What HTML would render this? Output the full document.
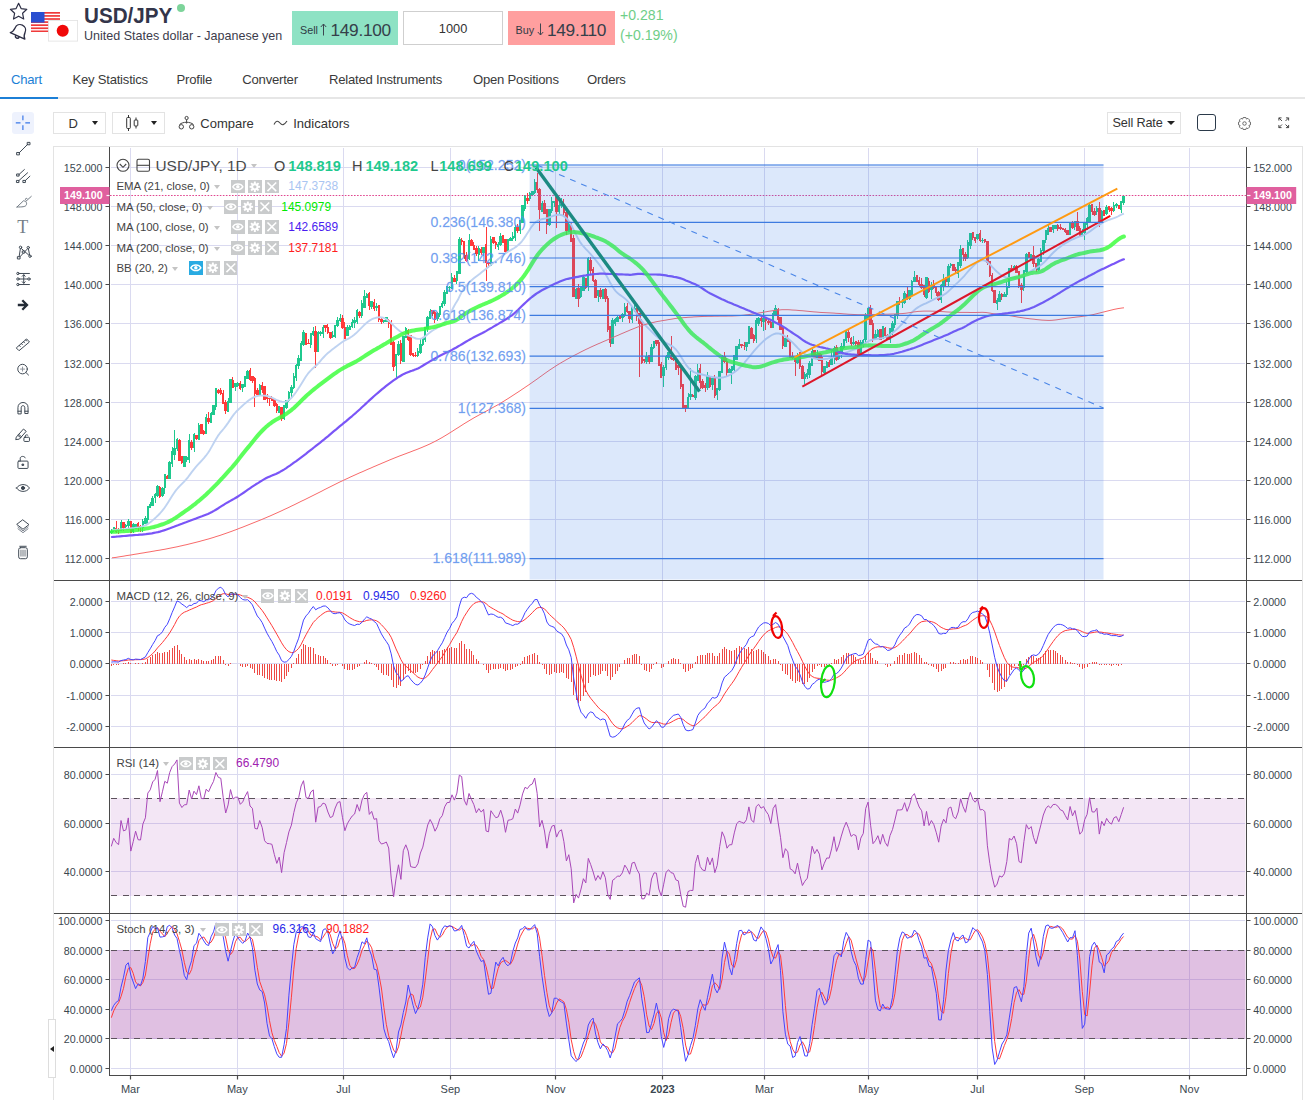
<!DOCTYPE html><html lang="en"><head><meta charset="utf-8"><title>USD/JPY</title><style>
*{box-sizing:border-box;margin:0;padding:0}
html,body{width:1305px;height:1100px;overflow:hidden;background:#fff}
body{font-family:"Liberation Sans",Arial,sans-serif;color:#333;position:relative}
.a{position:absolute;white-space:nowrap}
.tab{position:absolute;top:72.3px;font-size:13.1px;color:#3a3a3a;white-space:nowrap;line-height:16px;letter-spacing:-0.22px}
.lg{position:absolute;font-size:11.45px;color:#444;white-space:nowrap;line-height:14px;left:116.4px}
.bt{position:absolute;width:13.7px;height:13.6px;background:#c9cbcc}
.bt svg{position:absolute;left:0;top:0}
.val{position:absolute;font-size:11.95px;white-space:nowrap;line-height:14px}
.car{position:absolute;width:0;height:0;border-left:3.6px solid transparent;border-right:3.6px solid transparent;border-top:4px solid #c4c4c4}
</style></head><body>
<svg class="a" style="left:8px;top:1px" width="22" height="20" viewBox="0 0 22 20"><path d="M10.6 2.3l2.5 5.3 5.7 0.7-4.2 4 1.1 5.7-5.1-2.8-5.1 2.8 1.1-5.7-4.2-4 5.7-0.7z" fill="none" stroke="#2d2f45" stroke-width="1.2" stroke-linejoin="round"/></svg>
<svg class="a" style="left:6.5px;top:18.5px" width="25" height="25" viewBox="0 0 22 22"><g transform="rotate(24 11 11)" fill="none" stroke="#2d2f45" stroke-width="1.2" stroke-linejoin="round"><path d="M4 15.2c1.6-1.3 2.2-3 2.2-5.4 0-2.8 2-5 4.8-5s4.8 2.2 4.8 5c0 2.4 0.6 4.1 2.2 5.4z"/><path d="M9.3 15.400c0 1.1 0.7 1.9 1.7 1.900s1.700-0.8 1.700-1.9"/></g></svg>
<svg class="a" style="left:31px;top:11.5px" width="29" height="20" viewBox="0 0 29 20"><rect width="29" height="20" fill="#fff"/><rect y="0.00" width="29" height="1.7" fill="#f03a3a"/><rect y="3.08" width="29" height="1.7" fill="#f03a3a"/><rect y="6.16" width="29" height="1.7" fill="#f03a3a"/><rect y="9.24" width="29" height="1.7" fill="#f03a3a"/><rect y="12.32" width="29" height="1.7" fill="#f03a3a"/><rect y="15.40" width="29" height="1.7" fill="#f03a3a"/><rect y="18.48" width="29" height="1.7" fill="#f03a3a"/><rect width="13.5" height="10.6" fill="#2a4fd0"/></svg>
<svg class="a" style="left:47.5px;top:20px" width="30" height="21.5" viewBox="0 0 30 21.5"><rect x="0.4" y="0.4" width="29.2" height="20.7" fill="#fff" stroke="#e2e2e2" stroke-width="0.8"/><circle cx="14.7" cy="10.7" r="6" fill="#f00808"/></svg>
<div class="a" style="left:84px;top:2px;font-size:22.8px;font-weight:bold;color:#33354a;letter-spacing:0;line-height:26px;transform:scaleX(0.905);transform-origin:0 0">USD/JPY</div>
<div class="a" style="left:177px;top:4px;width:8.4px;height:8.4px;border-radius:50%;background:#7dd49a"></div>
<div class="a" style="left:84px;top:28.5px;font-size:12.520px;color:#3c3c4c;line-height:15px">United States dollar - Japanese yen</div>
<div class="a" style="left:292.4px;top:10.8px;width:105.2px;height:34.3px;background:#8ee2c4"></div>
<div class="a" style="left:300px;top:23.5px;font-size:10.8px;color:#2f3b45;line-height:13px">Sell</div>
<svg class="a" style="left:318.5px;top:21.5px" width="9" height="15" viewBox="0 0 9 15"><path d="M4.5 13.5V2M1.8 5L4.5 2L7.2 5" fill="none" stroke="#3c4650" stroke-width="1"/></svg>
<div class="a" style="left:330.5px;top:19.5px;font-size:17.3px;color:#35404a;line-height:20px;letter-spacing:-0.3px">149.100</div>
<div class="a" style="left:403.4px;top:10.8px;width:99.4px;height:34.3px;border:1px solid #cfcfcf;background:#fff"></div>
<div class="a" style="left:403.4px;top:20.5px;width:99.4px;text-align:center;font-size:12.8px;color:#333;line-height:15px">1000</div>
<div class="a" style="left:508px;top:10.8px;width:106.8px;height:34.3px;background:#ff9f9f"></div>
<div class="a" style="left:515.5px;top:23.5px;font-size:10.8px;color:#2f3b45;line-height:13px">Buy</div>
<svg class="a" style="left:535.5px;top:21.5px" width="9" height="15" viewBox="0 0 9 15"><path d="M4.5 1.5V13M1.8 10L4.5 13L7.2 10" fill="none" stroke="#3c4650" stroke-width="1"/></svg>
<div class="a" style="left:547px;top:19.5px;font-size:17.3px;color:#35404a;line-height:20px;letter-spacing:-0.3px">149.110</div>
<div class="a" style="left:620px;top:7px;font-size:14.1px;color:#6fce88;line-height:16px">+0.281</div>
<div class="a" style="left:620px;top:26.5px;font-size:14.1px;color:#6fce88;line-height:16px">(+0.19%)</div>
<div class="tab" style="left:11px;color:#1c7fd6">Chart</div>
<div class="tab" style="left:72.4px">Key Statistics</div>
<div class="tab" style="left:176.5px">Profile</div>
<div class="tab" style="left:242.3px">Converter</div>
<div class="tab" style="left:329px">Related Instruments</div>
<div class="tab" style="left:473px">Open Positions</div>
<div class="tab" style="left:587px">Orders</div>
<div class="a" style="left:0;top:97.3px;width:1305px;height:2px;background:#e6e6e6"></div>
<div class="a" style="left:0;top:97.3px;width:58px;height:2px;background:#1c7fd6"></div>
<div class="a" style="left:12.3px;top:112.2px;width:21.5px;height:21.5px;border-radius:3px;background:#eef2fd"></div>
<svg class="a" style="left:12.3px;top:112.2px" width="21.5" height="21.5" viewBox="0 0 21.5 21.5"><path d="M10.9 3.5V8.3M10.9 13.3V18M3.8 10.8H8.5M13.3 10.8H18" stroke="#3a78e8" stroke-width="1.2" fill="none"/></svg>
<div class="a" style="left:53px;top:112.2px;width:52.8px;height:21.5px;border:1px solid #e3e3e3;background:#fff"></div>
<div class="a" style="left:68.5px;top:115.5px;font-size:13px;color:#333;line-height:15px">D</div>
<div class="a" style="left:92.2px;top:121.4px;width:0;height:0;border-left:3.6px solid transparent;border-right:3.6px solid transparent;border-top:4.2px solid #222"></div>
<div class="a" style="left:112.2px;top:112.2px;width:52.8px;height:21.5px;border:1px solid #e3e3e3;background:#fff"></div>
<svg class="a" style="left:125px;top:114px" width="16" height="18" viewBox="0 0 16 18"><path d="M3.5 1V3.5M3.5 14.5V17M11 3.5V6M11 12V14.5" stroke="#333" stroke-width="1" fill="none"/><rect x="1.7" y="3.5" width="3.6" height="11" rx="0.8" fill="none" stroke="#333" stroke-width="1"/><rect x="9.2" y="6" width="3.6" height="6" rx="0.8" fill="none" stroke="#333" stroke-width="1"/></svg>
<div class="a" style="left:151.3px;top:121.4px;width:0;height:0;border-left:3.6px solid transparent;border-right:3.6px solid transparent;border-top:4.2px solid #222"></div>
<svg class="a" style="left:177.5px;top:114.5px" width="17" height="16" viewBox="0 0 17 16"><g fill="none" stroke="#444" stroke-width="1"><circle cx="8.6" cy="3" r="1.6"/><circle cx="3.3" cy="11.8" r="2.2"/><circle cx="13.7" cy="11.8" r="2.2"/><path d="M8.6 4.6V8.5M1.5 9.5C5 6.5 12 6.5 15.5 9.5"/></g></svg>
<div class="a" style="left:200.3px;top:115.5px;font-size:13px;color:#333;line-height:15px">Compare</div>
<svg class="a" style="left:272.5px;top:118px" width="15" height="10" viewBox="0 0 15 10"><path d="M1 6.5C3 2.5 5 2.5 7 5S11 7.5 14 3" fill="none" stroke="#444" stroke-width="1.1"/></svg>
<div class="a" style="left:293.2px;top:115.5px;font-size:13px;color:#333;line-height:15px">Indicators</div>
<div class="a" style="left:1107.3px;top:112.4px;width:73.4px;height:21.2px;border:1px solid #e3e3e3;background:#fff"></div>
<div class="a" style="left:1112.5px;top:116.3px;font-size:12.7px;color:#333;line-height:15px;letter-spacing:-0.150px">Sell Rate</div>
<div class="a" style="left:1167px;top:121.2px;width:0;height:0;border-left:4px solid transparent;border-right:4px solid transparent;border-top:4.4px solid #222"></div>
<div class="a" style="left:1197.2px;top:114.3px;width:19px;height:16.6px;border:1.5px solid #2b3a4a;border-radius:3px"></div>
<svg class="a" style="left:1237.4px;top:115.5px" width="15" height="15" viewBox="-9 -9 18 18"><g fill="none" stroke="#555" stroke-width="1"><path d="M-1.6 -7.2L1.6 -7.2L2.3 -5.3L4.1 -6.2L6.2 -4.1L5.3 -2.3L7.2 -1.6L7.2 1.6L5.3 2.3L6.2 4.1L4.1 6.2L2.3 5.3L1.6 7.2L-1.6 7.2L-2.3 5.3L-4.1 6.2L-6.2 4.1L-5.3 2.3L-7.2 1.6L-7.2 -1.6L-5.3 -2.3L-6.2 -4.1L-4.1 -6.2L-2.3 -5.3Z" stroke-linejoin="round"/><circle r="2.1"/></g></svg>
<svg class="a" style="left:1278.3px;top:117.3px" width="11.5" height="11.5" viewBox="0 0 13 13"><g fill="none" stroke="#444" stroke-width="1.1"><path d="M1 4V1H4M1 1L4.5 4.5M9 1H12V4M12 1L8.5 4.5M1 9V12H4M1 12L4.5 8.5M12 9V12H9M12 12L8.5 8.5"/></g></svg>
<svg width="1305" height="1100" viewBox="0 0 1305 1100" style="position:absolute;left:0;top:0" font-family="Liberation Sans, Arial, sans-serif">
<rect x="53.5" y="146.5" width="1249" height="960" fill="#fff" stroke="#e3e3e3"/>
<defs><clipPath id="cp0"><rect x="110.5" y="147" width="1135.5" height="433"/></clipPath><clipPath id="cp1"><rect x="110.5" y="581" width="1135.5" height="166"/></clipPath><clipPath id="cp2"><rect x="110.5" y="748" width="1135.5" height="165"/></clipPath><clipPath id="cp3"><rect x="110.5" y="914" width="1135.5" height="161"/></clipPath></defs>
<path d="M130.5 148V1075 M237.5 148V1075 M343.5 148V1075 M450.5 148V1075 M555.5 148V1075 M662.5 148V1075 M764.5 148V1075 M868.5 148V1075 M977.5 148V1075 M1084.5 148V1075 M1189.5 148V1075 M111 558.5H1245 M111 519.5H1245 M111 480.5H1245 M111 441.5H1245 M111 402.5H1245 M111 363.5H1245 M111 323.5H1245 M111 284.5H1245 M111 245.5H1245 M111 206.5H1245 M111 167.5H1245 M111 726.5H1245 M111 695.5H1245 M111 663.5H1245 M111 632.5H1245 M111 601.5H1245 M111 871.5H1245 M111 823.5H1245 M111 774.5H1245 M111 1068.5H1245 M111 1038.5H1245 M111 1009.5H1245 M111 979.5H1245 M111 950.5H1245 M111 920.5H1245" stroke="#dadaf0" stroke-width="1" fill="none" shape-rendering="crispEdges"/>
<rect x="110.5" y="798.0" width="1135" height="98.0" fill="#a040b0" fill-opacity="0.13"/>
<rect x="110.5" y="950.0" width="1135" height="89.0" fill="#a040a8" fill-opacity="0.33"/>
<path d="M111 798.5H1245" stroke="#5c525c" stroke-width="1" stroke-dasharray="6 5.5" fill="none" shape-rendering="crispEdges"/>
<path d="M111 895.5H1245" stroke="#5c525c" stroke-width="1" stroke-dasharray="6 5.5" fill="none" shape-rendering="crispEdges"/>
<path d="M111 950.5H1245" stroke="#5c525c" stroke-width="1" stroke-dasharray="6 5.5" fill="none" shape-rendering="crispEdges"/>
<path d="M111 1038.5H1245" stroke="#5c525c" stroke-width="1" stroke-dasharray="6 5.5" fill="none" shape-rendering="crispEdges"/>
<path d="M111.5 529.1V534.3 M113.5 527.4V532.0 M121.5 519.9V530.8 M125.5 523.6V528.1 M128.5 519.0V527.6 M133.5 523.4V533.0 M135.5 524.0V528.1 M142.5 519.2V531.8 M145.5 516.3V523.7 M147.5 505.7V524.9 M150.5 502.4V508.1 M152.5 496.4V505.2 M155.5 493.2V502.5 M157.5 485.1V497.4 M162.5 486.8V496.7 M164.5 475.5V493.7 M169.5 461.3V478.4 M172.5 447.4V466.7 M174.5 430.0V460.0 M177.5 438.1V451.0 M184.5 457.7V463.0 M186.5 455.8V462.4 M189.5 433.7V463.4 M194.5 433.1V452.4 M198.5 423.4V438.3 M206.5 414.3V434.3 M211.5 412.0V422.5 M213.5 405.1V414.9 M215.5 389.7V410.4 M228.5 398.4V412.4 M230.5 379.4V402.8 M235.5 382.8V390.5 M237.5 382.2V387.0 M242.5 383.7V392.3 M245.5 375.6V386.0 M247.5 369.5V379.0 M259.5 383.5V393.8 M279.5 405.6V411.4 M284.5 405.8V420.4 M286.5 399.7V408.8 M288.5 390.7V401.6 M291.5 385.0V397.2 M293.5 373.2V388.5 M296.5 364.3V381.0 M298.5 355.1V369.2 M301.5 340.8V360.2 M303.5 330.3V345.6 M310.5 333.8V347.6 M313.5 327.2V336.1 M318.5 331.4V352.4 M320.5 330.8V335.5 M323.5 324.6V337.5 M332.5 331.0V338.3 M335.5 325.5V338.0 M337.5 317.4V326.7 M340.5 313.9V321.6 M347.5 324.9V336.3 M349.5 324.8V330.3 M352.5 319.4V328.2 M354.5 316.9V327.8 M357.5 308.6V324.1 M361.5 300.1V318.0 M364.5 290.1V305.9 M366.5 292.5V297.7 M371.5 301.8V309.0 M376.5 302.6V310.5 M383.5 320.0V322.7 M386.5 318.1V321.3 M396.5 353.5V378.7 M398.5 340.9V356.4 M403.5 335.8V361.2 M405.5 327.0V337.8 M417.5 348.0V356.9 M420.5 338.1V353.7 M422.5 337.3V346.1 M425.5 327.6V342.1 M427.5 316.2V331.9 M430.5 309.2V317.8 M437.5 312.0V321.3 M439.5 306.3V317.0 M442.5 300.7V308.2 M444.5 289.8V305.8 M447.5 286.1V293.7 M449.5 286.0V291.8 M451.5 272.6V289.1 M456.5 271.1V284.1 M459.5 237.2V272.7 M469.5 233.6V259.9 M478.5 245.8V260.9 M483.5 246.6V255.7 M490.5 236.1V263.7 M498.5 241.8V249.8 M500.5 232.9V246.1 M507.5 238.6V252.4 M510.5 237.0V241.3 M512.5 232.2V240.9 M515.5 225.1V240.6 M520.5 220.6V233.7 M522.5 206.2V222.2 M524.5 194.6V210.5 M529.5 191.8V201.1 M532.5 191.6V196.3 M534.5 179.2V193.5 M542.5 201.1V210.8 M549.5 209.6V226.3 M551.5 197.3V212.8 M554.5 200.7V206.9 M559.5 202.0V215.0 M561.5 198.4V208.2 M568.5 221.5V231.6 M576.5 287.8V299.4 M580.5 287.7V297.5 M583.5 275.4V290.3 M588.5 257.1V291.1 M598.5 289.6V302.4 M602.5 288.5V298.3 M612.5 317.5V342.7 M615.5 318.1V325.7 M617.5 315.1V321.7 M622.5 313.2V322.2 M624.5 303.4V317.3 M632.5 308.7V322.7 M634.5 305.0V311.8 M646.5 352.1V363.5 M651.5 344.3V360.4 M653.5 341.7V349.2 M663.5 365.2V386.5 M666.5 355.0V370.0 M668.5 353.5V360.2 M688.5 392.5V409.1 M690.5 367.5V399.9 M695.5 375.3V400.2 M697.5 364.4V377.7 M707.5 372.1V390.2 M712.5 377.9V389.8 M717.5 387.5V400.3 M719.5 371.9V390.9 M722.5 354.5V372.9 M729.5 368.0V373.0 M731.5 367.6V383.9 M734.5 356.9V371.8 M736.5 346.6V358.1 M739.5 339.3V349.4 M746.5 342.1V351.0 M748.5 327.0V343.7 M756.5 317.8V343.2 M758.5 316.7V325.5 M763.5 309.8V331.2 M773.5 311.3V328.1 M775.5 305.3V314.2 M785.5 337.7V347.3 M797.5 353.0V364.1 M804.5 372.2V384.1 M807.5 368.7V378.5 M809.5 360.9V377.6 M812.5 349.0V364.7 M817.5 349.5V360.0 M824.5 365.5V373.7 M826.5 361.0V368.4 M831.5 351.1V365.0 M834.5 345.9V364.0 M838.5 352.5V360.0 M841.5 342.8V357.8 M843.5 338.6V348.5 M846.5 329.7V343.1 M853.5 336.3V344.5 M860.5 339.7V354.6 M863.5 338.5V346.5 M865.5 312.5V344.1 M868.5 308.1V319.7 M875.5 330.2V339.7 M877.5 328.9V336.9 M882.5 326.0V338.9 M890.5 327.7V343.1 M892.5 321.3V335.4 M894.5 313.5V327.9 M897.5 301.2V318.8 M902.5 299.0V307.5 M904.5 291.2V303.7 M909.5 289.9V299.9 M911.5 279.8V294.2 M914.5 271.0V282.0 M926.5 279.9V299.1 M931.5 281.7V298.5 M941.5 283.7V303.1 M943.5 274.0V290.8 M948.5 264.0V287.0 M950.5 263.4V267.6 M958.5 262.7V277.7 M960.5 245.4V267.6 M967.5 240.2V258.6 M970.5 232.5V248.9 M977.5 234.5V239.6 M982.5 237.8V242.7 M997.5 297.6V310.3 M999.5 291.4V300.9 M1004.5 291.8V296.8 M1006.5 281.7V296.6 M1009.5 268.2V286.8 M1014.5 264.6V270.1 M1023.5 270.1V290.6 M1026.5 253.0V273.3 M1031.5 253.6V258.4 M1038.5 258.3V270.6 M1040.5 248.1V260.3 M1043.5 239.5V255.2 M1045.5 230.8V243.1 M1048.5 224.3V232.8 M1053.5 225.0V233.1 M1055.5 225.5V227.2 M1070.5 221.9V235.4 M1074.5 221.3V229.5 M1082.5 229.4V235.4 M1084.5 221.5V240.3 M1087.5 217.4V229.5 M1089.5 204.1V221.3 M1096.5 205.9V214.8 M1101.5 209.9V222.4 M1106.5 205.0V214.7 M1113.5 201.7V212.0 M1116.5 202.7V207.6 M1121.5 201.9V212.8 M1123.5 195.9V205.1" stroke="#1fc98e" stroke-width="1" fill="none" shape-rendering="crispEdges"/>
<path d="M116.5 521.0V533.1 M118.5 527.9V533.8 M123.5 523.0V531.1 M130.5 521.1V532.7 M138.5 522.1V531.3 M140.5 525.3V532.4 M159.5 485.7V497.8 M167.5 475.4V478.9 M179.5 438.6V461.0 M181.5 457.2V463.7 M191.5 439.8V450.0 M196.5 435.6V439.9 M201.5 423.6V434.4 M203.5 430.1V434.8 M208.5 411.7V424.2 M218.5 388.7V393.6 M220.5 388.3V395.4 M223.5 389.9V404.1 M225.5 399.8V414.4 M232.5 377.4V388.1 M240.5 381.3V389.5 M250.5 368.1V381.2 M252.5 376.4V382.7 M254.5 376.7V406.6 M257.5 388.1V392.7 M262.5 381.9V392.8 M264.5 385.7V400.2 M267.5 394.1V402.5 M269.5 397.8V406.4 M271.5 395.8V400.5 M274.5 397.7V406.8 M276.5 402.9V413.0 M281.5 406.8V420.5 M305.5 333.1V344.7 M308.5 339.4V344.3 M315.5 326.2V367.5 M325.5 325.6V331.9 M327.5 323.9V333.9 M330.5 331.6V338.5 M342.5 315.3V328.6 M344.5 322.3V336.4 M359.5 310.6V318.0 M369.5 292.4V309.7 M374.5 298.6V310.5 M378.5 304.9V322.4 M381.5 318.0V323.5 M388.5 318.8V328.3 M391.5 320.2V345.1 M393.5 340.6V370.5 M400.5 340.4V363.8 M408.5 328.9V341.2 M410.5 334.8V356.2 M413.5 353.5V357.4 M415.5 352.1V357.1 M432.5 309.9V316.2 M434.5 311.4V322.7 M454.5 274.9V282.3 M461.5 238.3V244.6 M464.5 240.5V259.0 M466.5 251.5V262.3 M471.5 239.3V246.3 M473.5 242.3V249.9 M476.5 246.4V255.9 M481.5 246.7V255.2 M486.5 227.4V280.9 M488.5 261.8V267.7 M493.5 237.7V244.1 M495.5 240.7V248.6 M503.5 236.1V241.8 M505.5 239.1V252.6 M517.5 224.1V233.1 M527.5 193.3V203.6 M537.5 173.0V193.3 M539.5 187.7V230.8 M544.5 200.4V211.7 M546.5 209.1V234.3 M556.5 201.4V228.2 M563.5 198.6V216.1 M566.5 211.2V234.5 M571.5 221.6V241.1 M573.5 235.4V297.4 M578.5 283.9V306.8 M585.5 277.9V288.7 M590.5 257.2V274.3 M593.5 267.2V281.5 M595.5 279.0V296.4 M600.5 288.2V298.9 M605.5 287.8V301.7 M607.5 296.0V331.8 M610.5 326.8V346.6 M619.5 314.9V318.2 M627.5 303.1V312.5 M629.5 311.1V322.7 M636.5 307.9V320.7 M639.5 314.5V377.0 M641.5 318.8V363.6 M644.5 358.6V363.1 M649.5 355.4V363.6 M656.5 339.8V346.3 M658.5 339.6V365.7 M661.5 361.7V376.9 M671.5 335.5V359.7 M673.5 356.3V360.8 M675.5 358.3V370.3 M678.5 366.4V375.0 M680.5 363.9V389.3 M683.5 383.5V406.7 M685.5 405.2V412.2 M692.5 394.1V397.1 M700.5 363.6V389.2 M702.5 378.9V388.5 M705.5 383.0V391.9 M709.5 375.6V387.9 M714.5 375.1V398.3 M724.5 352.3V362.8 M726.5 358.2V376.6 M741.5 344.1V348.1 M744.5 342.1V350.1 M751.5 326.5V337.9 M753.5 333.7V342.9 M761.5 315.9V327.2 M765.5 318.1V330.4 M768.5 318.9V325.2 M770.5 319.4V328.1 M778.5 308.0V323.2 M780.5 316.6V330.3 M782.5 325.6V348.7 M787.5 335.4V342.2 M790.5 339.9V358.4 M792.5 352.1V358.9 M795.5 356.9V376.3 M799.5 353.7V369.0 M802.5 364.9V379.1 M814.5 349.7V358.7 M819.5 353.0V358.9 M821.5 353.8V374.8 M829.5 360.0V365.1 M836.5 345.2V360.7 M848.5 328.7V341.9 M851.5 336.5V345.5 M855.5 341.3V346.4 M858.5 339.8V352.2 M870.5 304.8V325.4 M872.5 319.8V341.5 M880.5 329.0V339.3 M885.5 326.5V336.7 M887.5 333.6V339.7 M899.5 297.3V304.5 M907.5 287.3V299.5 M916.5 275.8V281.8 M919.5 276.9V285.5 M921.5 278.0V288.6 M924.5 285.6V296.8 M928.5 277.6V293.4 M933.5 280.4V289.3 M936.5 286.2V296.0 M938.5 290.5V301.1 M945.5 276.8V285.6 M953.5 263.5V270.4 M955.5 267.2V272.8 M963.5 249.7V261.0 M965.5 251.6V261.3 M972.5 232.3V239.7 M975.5 236.6V242.5 M980.5 230.4V241.6 M984.5 239.3V243.4 M987.5 240.8V264.6 M989.5 260.5V276.8 M992.5 273.0V291.8 M994.5 289.5V303.1 M1001.5 293.4V299.6 M1011.5 265.3V270.3 M1016.5 264.8V272.3 M1018.5 271.3V288.1 M1021.5 283.2V302.5 M1028.5 253.3V258.4 M1033.5 246.4V267.2 M1036.5 263.0V271.6 M1050.5 227.3V232.2 M1057.5 224.4V230.9 M1060.5 224.2V230.0 M1062.5 227.7V229.9 M1065.5 228.1V232.6 M1067.5 230.5V233.9 M1072.5 221.0V229.0 M1077.5 211.8V229.5 M1079.5 225.5V236.8 M1092.5 203.9V215.1 M1094.5 208.0V216.1 M1099.5 202.0V226.5 M1104.5 210.1V215.1 M1109.5 207.4V212.0 M1111.5 206.8V215.3 M1118.5 204.5V208.9" stroke="#ff3a3a" stroke-width="1" fill="none" shape-rendering="crispEdges"/>
<path d="M110 530.7H113V533.2H110z M113 526.7H115V531.1H113z M120 522.0H122V530.6H120z M125 524.9H127V527.3H125z M127 521.1H130V526.4H127z M132 524.4H134V532.2H132z M134 524.1H137V528.9H134z M142 521.4H144V527.5H142z M144 517.6H147V523.7H144z M147 506.0H149V519.7H147z M149 504.1H151V507.8H149z M151 497.7H154V506.4H151z M154 493.9H156V498.3H154z M156 486.4H159V495.9H156z M161 488.0H164V496.4H161z M164 474.3H166V488.1H164z M168 462.2H171V478.5H168z M171 451.3H173V464.0H171z M173 447.6H176V454.7H173z M176 439.4H178V448.9H176z M183 455.9H186V466.7H183z M186 457.1H188V460.3H186z M188 440.4H190V459.7H188z M193 434.0H195V447.9H193z M198 425.3H200V440.2H198z M205 416.5H207V433.5H205z M210 412.7H212V422.5H210z M212 405.2H215V414.5H212z M215 388.3H217V407.1H215z M227 400.9H229V411.8H227z M229 379.3H232V402.6H229z M234 382.6H237V386.5H234z M237 382.6H239V385.8H237z M241 383.6H244V387.5H241z M244 375.9H246V386.5H244z M246 370.5H249V378.5H246z M259 384.5H261V395.0H259z M278 406.1H280V413.4H278z M283 404.7H285V419.0H283z M285 400.1H288V407.5H285z M288 391.5H290V400.7H288z M290 387.4H293V392.9H290z M293 376.2H295V387.9H293z M295 365.2H297V378.0H295z M297 357.6H300V366.3H297z M300 343.0H302V361.4H300z M302 332.0H305V344.8H302z M310 332.5H312V344.9H310z M312 330.8H314V335.3H312z M317 332.3H319V352.2H317z M319 331.7H322V334.1H319z M322 326.9H324V334.2H322z M332 334.6H334V337.1H332z M334 325.2H336V337.3H334z M336 320.1H339V326.4H336z M339 317.9H341V320.7H339z M346 327.0H349V335.7H346z M349 325.5H351V330.1H349z M351 322.4H353V326.5H351z M353 320.1H356V322.9H353z M356 310.0H358V321.7H356z M361 302.9H363V316.4H361z M363 296.0H366V307.9H363z M366 294.0H368V297.6H366z M370 301.2H373V306.7H370z M375 305.8H378V308.0H375z M383 319.9H385V321.7H383z M385 316.8H388V321.5H385z M395 354.1H397V366.4H395z M397 344.0H400V355.1H397z M402 335.9H405V362.2H402z M405 327.6H407V337.8H405z M417 350.5H419V356.3H417z M419 343.5H422V352.9H419z M422 337.9H424V344.7H422z M424 327.2H426V339.7H424z M426 316.8H429V328.8H426z M429 310.5H431V318.6H429z M436 313.4H439V319.4H436z M439 306.3H441V315.3H439z M441 302.5H443V307.4H441z M443 292.3H446V303.6H443z M446 286.4H448V294.4H446z M448 287.1H451V288.2H448z M451 277.1H453V288.7H451z M456 271.4H458V281.4H456z M458 239.1H461V273.5H458z M468 240.2H470V259.3H468z M478 247.8H480V255.0H478z M482 246.6H485V252.8H482z M490 239.3H492V265.9H490z M497 243.8H499V246.9H497z M499 236.3H502V245.1H499z M507 239.0H509V252.0H507z M509 238.2H512V241.3H509z M512 235.8H514V238.9H512z M514 227.1H516V238.2H514z M519 220.2H521V230.5H519z M521 205.4H524V223.0H521z M524 196.0H526V209.4H524z M529 193.3H531V199.4H529z M531 190.8H534V195.4H531z M534 181.6H536V193.3H534z M541 203.3H543V212.0H541z M548 209.3H551V225.3H548z M551 201.4H553V211.2H551z M553 201.3H555V203.0H553z M558 205.1H560V212.0H558z M560 203.7H563V206.1H560z M568 224.1H570V231.8H568z M575 288.9H577V298.5H575z M580 286.0H582V297.2H580z M582 276.8H585V290.6H582z M587 257.8H589V286.5H587z M597 289.8H599V295.8H597z M602 288.7H604V298.9H602z M611 320.2H614V343.6H611z M614 319.1H616V323.7H614z M616 316.8H619V322.1H616z M621 314.3H624V317.7H621z M624 307.1H626V314.9H624z M631 306.1H633V320.1H631z M633 307.9H636V310.1H633z M645 356.0H648V361.8H645z M650 347.3H653V361.5H650z M653 341.4H655V348.3H653z M662 366.6H665V376.1H662z M665 356.4H667V368.2H665z M667 352.2H670V357.5H667z M687 397.1H689V407.7H687z M689 394.2H692V397.4H689z M694 376.1H697V397.7H694z M697 369.7H699V381.4H697z M706 375.0H709V388.2H706z M711 378.0H714V385.0H711z M716 387.9H718V395.3H716z M718 370.6H721V389.8H718z M721 356.5H723V373.2H721z M728 368.6H731V372.6H728z M731 366.2H733V371.2H731z M733 354.6H735V369.8H733z M735 346.2H738V359.5H735z M738 343.7H740V349.0H738z M745 342.2H748V346.6H745z M748 325.8H750V344.3H748z M755 319.8H757V339.0H755z M757 318.0H760V324.0H757z M762 318.0H765V321.9H762z M772 312.8H774V328.2H772z M774 307.8H777V315.2H774z M784 338.0H787V347.1H784z M796 354.5H799V363.4H796z M804 373.8H806V379.2H804z M806 372.8H808V376.6H806z M808 363.1H811V374.8H808z M811 350.8H813V365.7H811z M816 353.5H818V357.7H816z M823 365.7H826V372.7H823z M826 362.4H828V368.4H826z M830 356.7H833V364.8H830z M833 347.7H835V357.5H833z M838 353.4H840V359.1H838z M840 346.4H843V355.2H840z M843 338.9H845V348.2H843z M845 330.7H847V340.9H845z M852 341.8H855V343.6H852z M860 341.8H862V353.2H860z M862 339.5H864V343.5H862z M864 315.5H867V340.3H864z M867 308.3H869V319.2H867z M874 334.3H877V339.3H874z M877 329.9H879V336.5H877z M882 326.4H884V338.6H882z M889 328.0H891V339.6H889z M891 322.9H894V331.6H891z M894 313.6H896V325.2H894z M896 301.4H899V315.3H896z M901 301.4H903V303.0H901z M903 293.2H906V302.7H903z M908 290.4H911V299.3H908z M911 281.3H913V295.8H911z M913 276.8H916V281.6H913z M925 277.3H928V297.8H925z M930 284.7H933V290.1H930z M940 284.5H942V300.1H940z M942 278.7H945V286.7H942z M947 265.8H950V281.7H947z M950 263.9H952V266.1H950z M957 262.2H959V273.8H957z M959 248.5H962V265.8H959z M967 242.4H969V257.9H967z M969 233.0H972V246.0H969z M976 233.7H979V239.1H976z M981 239.9H984V241.0H981z M996 299.8H998V304.1H996z M998 294.0H1001V301.5H998z M1003 294.0H1006V296.7H1003z M1006 286.0H1008V295.1H1006z M1008 267.8H1010V288.2H1008z M1013 266.1H1015V270.2H1013z M1023 270.2H1025V287.7H1023z M1025 254.4H1028V272.2H1025z M1030 254.0H1032V260.0H1030z M1037 258.8H1040V270.0H1037z M1040 249.7H1042V261.9H1040z M1042 239.7H1045V251.1H1042z M1045 230.0H1047V240.2H1045z M1047 228.4H1049V234.5H1047z M1052 225.1H1054V230.2H1052z M1054 225.2H1057V228.8H1054z M1069 222.1H1071V235.2H1069z M1074 220.7H1076V227.1H1074z M1081 230.8H1083V235.0H1081z M1083 221.8H1086V232.8H1083z M1086 218.1H1088V224.6H1086z M1088 204.7H1091V222.6H1088z M1096 208.2H1098V212.1H1096z M1101 210.9H1103V221.6H1101z M1105 207.3H1108V213.8H1105z M1113 205.2H1115V211.4H1113z M1115 203.6H1118V206.0H1115z M1120 201.2H1122V209.5H1120z M1122 195.5H1125V202.9H1122z" fill="#1fc98e" shape-rendering="crispEdges"/>
<path d="M115 527.6H117V531.9H115z M117 528.8H120V531.0H117z M122 521.7H125V528.2H122z M130 520.8H132V533.3H130z M137 523.0H139V527.4H137z M139 525.6H142V527.2H139z M159 486.7H161V496.6H159z M166 476.2H168V478.6H166z M178 439.7H181V460.5H178z M181 455.8H183V463.2H181z M190 441.6H193V447.6H190z M195 434.7H198V439.1H195z M200 423.8H203V434.2H200z M203 431.2H205V433.8H203z M207 418.0H210V421.6H207z M217 389.8H220V393.0H217z M220 390.2H222V393.9H220z M222 392.6H224V403.9H222z M224 401.8H227V411.1H224z M232 379.9H234V387.7H232z M239 383.1H241V389.3H239z M249 370.2H251V379.6H249z M251 376.4H254V380.9H251z M254 378.2H256V393.9H254z M256 389.8H259V395.1H256z M261 384.8H263V390.0H261z M263 386.0H266V399.5H263z M266 396.1H268V399.0H266z M268 397.9H271V399.3H268z M271 397.7H273V400.9H271z M273 398.9H276V405.8H273z M276 404.4H278V411.1H276z M280 407.2H283V418.6H280z M305 333.1H307V344.6H305z M307 343.1H310V344.4H307z M314 330.8H317V352.0H314z M324 325.2H327V328.3H324z M327 327.1H329V333.3H327z M329 331.8H332V338.2H329z M341 318.2H344V327.8H341z M344 327.0H346V338.8H344z M358 311.8H361V316.2H358z M368 293.3H370V306.4H368z M373 302.1H375V308.7H373z M378 305.4H380V320.1H378z M380 318.9H383V321.9H380z M388 319.8H390V324.2H388z M390 322.5H392V344.7H390z M392 341.7H395V366.7H392z M400 343.1H402V361.3H400z M407 329.8H409V339.8H407z M409 335.0H412V355.1H409z M412 352.5H414V356.2H412z M414 354.9H417V355.9H414z M431 309.9H434V314.2H431z M434 312.0H436V319.7H434z M453 277.9H456V282.0H453z M461 240.2H463V241.6H461z M463 240.6H465V257.3H463z M465 255.2H468V261.1H465z M470 239.5H473V246.0H470z M473 244.6H475V249.7H473z M475 248.4H478V254.2H475z M480 248.5H482V253.0H480z M485 244.1H487V263.4H485z M487 262.0H490V264.1H487z M492 237.0H495V242.7H492z M495 242.1H497V244.9H495z M502 235.0H504V243.0H502z M504 238.7H507V252.1H504z M516 226.9H519V231.1H516z M526 197.8H529V201.0H526z M536 182.1H538V190.2H536z M538 189.1H541V210.4H538z M543 202.8H546V213.6H543z M546 208.9H548V225.4H546z M555 196.9H558V211.7H555z M563 203.8H565V213.2H563z M565 211.5H568V231.4H565z M570 223.6H572V241.8H570z M572 238.3H575V297.0H572z M577 287.8H580V299.1H577z M585 278.1H587V288.1H585z M589 259.6H592V270.6H589z M592 268.8H594V281.4H592z M594 280.4H597V297.9H594z M599 290.0H602V297.2H599z M604 288.7H607V298.6H604z M607 298.4H609V330.3H607z M609 325.6H611V342.6H609z M619 316.3H621V319.3H619z M626 306.2H628V312.3H626z M628 310.8H631V319.0H628z M636 307.7H638V316.6H636z M638 313.3H641V324.0H638z M641 320.7H643V362.6H641z M643 359.3H645V361.1H643z M648 355.1H650V361.9H648z M655 340.4H658V343.8H655z M658 342.2H660V365.7H658z M660 364.2H662V378.1H660z M670 354.7H672V358.5H670z M672 357.8H675V359.8H672z M675 357.9H677V369.6H675z M677 364.6H680V368.0H677z M680 366.9H682V386.8H680z M682 384.4H684V407.8H682z M684 404.9H687V407.9H684z M692 395.4H694V397.1H692z M699 368.4H701V383.1H699z M701 381.2H704V387.5H701z M704 385.2H706V387.5H704z M709 375.9H711V387.2H709z M714 378.2H716V395.8H714z M723 355.8H726V361.9H723z M726 360.5H728V372.6H726z M740 344.3H743V345.6H740z M743 345.3H745V346.4H743z M750 328.2H753V339.3H750z M753 334.5H755V341.3H753z M760 317.9H762V320.6H760z M765 318.1H767V321.4H765z M767 320.7H770V323.2H767z M770 322.4H772V327.8H770z M777 309.1H779V320.0H777z M779 317.4H782V330.1H779z M782 327.8H784V345.9H782z M787 337.5H789V342.3H787z M789 340.4H791V358.1H789z M791 356.3H794V358.4H791z M794 357.5H796V362.0H794z M799 352.0H801V366.9H799z M801 365.7H804V378.7H801z M813 350.1H816V357.9H813z M818 352.5H821V360.9H818z M821 357.0H823V372.2H821z M828 362.2H830V366.6H828z M835 346.7H838V359.8H835z M847 331.8H850V338.3H847z M850 338.1H852V343.6H850z M855 340.6H857V343.7H855z M857 342.3H860V353.5H857z M869 308.0H872V324.8H869z M872 323.4H874V339.4H872z M879 328.5H882V340.2H879z M884 327.9H886V336.0H884z M886 334.7H889V340.2H886z M899 302.0H901V303.3H899z M906 293.8H908V299.6H906z M916 274.5H918V282.3H916z M918 280.3H920V284.7H918z M920 284.0H923V288.2H920z M923 284.6H925V295.4H923z M928 280.9H930V291.6H928z M933 284.7H935V287.9H933z M935 286.5H937V293.3H935z M937 292.1H940V299.7H937z M945 278.3H947V281.6H945z M952 264.4H955V271.1H952z M955 269.0H957V271.4H955z M962 247.9H964V255.0H962z M964 254.3H967V258.9H964z M972 232.1H974V237.6H972z M974 237.1H976V241.4H974z M979 233.1H981V241.3H979z M984 238.5H986V241.8H984z M986 240.9H989V263.4H986z M989 261.4H991V276.1H989z M991 274.5H993V291.3H991z M993 289.8H996V302.6H993z M1001 293.8H1003V296.6H1001z M1010 267.8H1013V270.8H1010z M1015 265.9H1018V272.8H1015z M1018 271.3H1020V287.0H1018z M1020 284.9H1023V289.8H1020z M1028 252.0H1030V258.0H1028z M1032 255.0H1035V264.3H1032z M1035 263.4H1037V268.3H1035z M1049 226.8H1052V231.8H1049z M1057 225.2H1059V229.1H1057z M1059 226.5H1062V228.7H1059z M1062 228.4H1064V229.9H1062z M1064 228.8H1066V231.6H1064z M1066 230.2H1069V234.5H1066z M1071 221.6H1074V228.0H1071z M1076 221.4H1079V230.7H1076z M1079 227.5H1081V236.0H1079z M1091 204.4H1093V211.9H1091z M1093 210.9H1096V214.8H1093z M1098 207.9H1101V223.0H1098z M1103 210.4H1105V215.9H1103z M1108 206.4H1110V210.0H1108z M1110 207.7H1113V211.0H1110z M1118 204.7H1120V209.0H1118z" fill="#ff3a3a" shape-rendering="crispEdges"/>
<polyline points="111.9,530.0 113.9,529.9 115.9,529.8 117.9,529.6 119.9,529.5 121.9,529.3 123.9,529.1 125.9,529.0 127.9,528.7 129.9,528.5 131.9,528.3 133.9,528.1 135.9,527.8 137.9,527.5 139.9,527.1 141.9,526.6 143.9,526.0 145.9,525.1 147.9,523.9 149.9,522.5 151.9,520.9 153.9,519.2 155.9,517.4 157.9,515.5 159.9,513.5 161.9,511.2 163.9,508.7 165.9,505.8 167.9,502.7 169.9,499.5 171.9,496.3 173.9,493.2 175.9,490.4 177.9,488.0 179.9,485.9 181.9,483.9 183.9,481.9 185.9,479.7 187.9,477.3 189.9,474.6 191.9,471.9 193.9,469.4 195.9,466.9 197.9,464.6 199.9,462.5 201.9,460.3 203.9,458.1 205.9,455.7 207.9,453.0 209.9,449.9 211.9,446.4 213.9,442.7 215.9,439.2 217.9,435.9 219.9,433.2 221.9,430.8 223.9,428.5 225.9,425.9 227.9,423.1 229.9,420.1 231.9,417.1 233.9,414.4 235.9,412.0 237.9,410.0 239.9,408.1 241.9,406.2 243.9,404.4 245.9,402.7 247.9,401.1 249.9,399.6 251.9,398.3 253.9,397.2 255.9,396.4 257.9,395.9 259.9,395.6 261.9,395.5 263.9,395.6 265.9,395.8 267.9,396.2 269.9,396.9 271.9,397.7 273.9,398.6 275.9,399.6 277.9,400.5 279.9,401.2 281.9,401.7 283.9,401.9 285.9,401.6 287.9,400.7 289.9,399.3 291.9,397.3 293.9,394.9 295.9,392.2 297.9,389.3 299.9,386.2 301.9,383.0 303.9,379.7 305.9,376.5 307.9,373.7 309.9,371.3 311.9,369.3 313.9,367.5 315.9,365.7 317.9,363.8 319.9,361.6 321.9,359.2 323.9,357.0 325.9,354.9 327.9,353.0 329.9,351.4 331.9,349.8 333.9,348.3 335.9,346.7 337.9,345.2 339.9,343.7 341.9,342.3 343.9,341.0 345.9,339.9 347.9,338.9 349.9,337.8 351.9,336.5 353.9,335.0 355.9,333.3 357.9,331.3 359.9,329.3 361.9,327.3 363.9,325.3 365.9,323.5 367.9,321.8 369.9,320.4 371.9,319.2 373.9,318.4 375.9,317.8 377.9,317.4 379.9,317.3 381.9,317.5 383.9,318.0 385.9,319.0 387.9,320.3 389.9,321.9 391.9,323.8 393.9,325.8 395.9,327.8 397.9,329.6 399.9,331.2 401.9,332.5 403.9,333.6 405.9,334.5 407.9,335.3 409.9,336.0 411.9,336.9 413.9,337.7 415.9,338.5 417.9,338.9 419.9,338.9 421.9,338.3 423.9,337.2 425.9,335.7 427.9,334.0 429.9,332.4 431.9,331.0 433.9,329.8 435.9,328.6 437.9,327.5 439.9,326.4 441.9,325.1 443.9,323.3 445.9,320.4 447.9,316.7 449.9,313.7 451.9,310.5 453.9,306.5 455.9,302.9 457.9,299.8 459.9,295.7 461.9,291.7 463.9,288.6 465.9,286.1 467.9,283.9 469.9,281.8 471.9,280.0 473.9,278.3 475.9,276.7 477.9,275.2 479.9,273.7 481.9,272.1 483.9,270.5 485.9,268.9 487.9,267.3 489.9,265.7 491.9,264.1 493.9,262.5 495.9,260.9 497.9,259.3 499.9,257.7 501.9,256.1 503.9,254.6 505.9,253.1 507.9,251.8 509.9,250.6 511.9,249.4 513.9,248.2 515.9,246.9 517.9,245.3 519.9,243.5 521.9,241.3 523.9,238.6 525.9,235.6 527.9,232.4 529.9,229.2 531.9,226.3 533.9,223.9 535.9,222.0 537.9,220.7 539.9,219.9 541.9,219.2 543.9,218.8 545.9,218.3 547.9,217.8 549.9,217.1 551.9,216.4 553.9,215.7 555.9,215.1 557.9,214.7 559.9,214.8 561.9,215.2 563.9,216.2 565.9,217.7 567.9,219.9 569.9,222.7 571.9,226.3 573.9,230.3 575.9,234.4 577.9,238.2 579.9,241.7 581.9,244.6 583.9,246.9 585.9,249.1 587.9,251.2 589.9,253.3 591.9,255.6 593.9,258.0 595.9,260.4 597.9,262.9 599.9,265.4 601.9,268.2 603.9,271.3 605.9,274.7 607.9,278.4 609.9,282.2 611.9,285.8 613.9,288.8 615.9,291.3 617.9,293.3 619.9,294.9 621.9,296.3 623.9,297.7 625.9,299.4 627.9,301.4 629.9,303.7 631.9,306.4 633.9,309.4 635.9,312.5 637.9,315.5 639.9,318.5 641.9,321.2 643.9,323.7 645.9,325.9 647.9,327.9 649.9,329.9 651.9,331.9 653.9,333.8 655.9,335.7 657.9,337.4 659.9,339.0 661.9,340.4 663.9,341.7 665.9,342.8 667.9,343.9 669.9,344.9 671.9,346.1 673.9,347.6 675.9,349.5 677.9,352.0 679.9,355.0 681.9,358.2 683.9,361.5 685.9,364.6 687.9,367.2 689.9,369.3 691.9,370.9 693.9,372.1 695.9,372.9 697.9,373.5 699.9,374.0 701.9,374.5 703.9,375.0 705.9,375.5 707.9,376.0 709.9,376.5 711.9,376.9 713.9,377.3 715.9,377.5 717.9,377.7 719.9,377.7 721.9,377.5 723.9,377.2 725.9,376.6 727.9,375.8 729.9,374.9 731.9,373.7 733.9,372.5 735.9,371.0 737.9,369.4 739.9,367.5 741.9,365.5 743.9,363.3 745.9,360.9 747.9,358.5 749.9,356.0 751.9,353.6 753.9,351.2 755.9,348.8 757.9,346.6 759.9,344.5 761.9,342.6 763.9,340.7 765.9,339.1 767.9,337.6 769.9,336.2 771.9,335.0 773.9,334.1 775.9,333.5 777.9,333.4 779.9,333.7 781.9,334.5 783.9,335.6 785.9,337.0 787.9,338.6 789.9,340.2 791.9,341.9 793.9,343.9 795.9,346.0 797.9,348.1 799.9,350.1 801.9,352.0 803.9,353.5 805.9,354.8 807.9,355.9 809.9,356.9 811.9,357.7 813.9,358.3 815.9,358.7 817.9,358.9 819.9,359.1 821.9,359.1 823.9,359.1 825.9,358.9 827.9,358.7 829.9,358.2 831.9,357.7 833.9,357.1 835.9,356.4 837.9,355.7 839.9,354.9 841.9,354.1 843.9,353.4 845.9,352.6 847.9,351.9 849.9,351.1 851.9,350.4 853.9,349.7 855.9,349.0 857.9,348.2 859.9,347.1 861.9,345.8 863.9,344.3 865.9,342.8 867.9,341.5 869.9,340.5 871.9,339.8 873.9,339.4 875.9,339.1 877.9,338.8 879.9,338.5 881.9,338.1 883.9,337.6 885.9,336.8 887.9,335.9 889.9,334.7 891.9,333.4 893.9,331.8 895.9,330.1 897.9,328.3 899.9,326.2 901.9,324.1 903.9,321.7 905.9,319.3 907.9,316.9 909.9,314.6 911.9,312.4 913.9,310.4 915.9,308.8 917.9,307.4 919.9,306.2 921.9,305.2 923.9,304.2 925.9,303.3 927.9,302.3 929.9,301.3 931.9,300.3 933.9,299.3 935.9,298.4 937.9,297.5 939.9,296.7 941.9,295.8 943.9,294.7 945.9,293.4 947.9,291.8 949.9,289.9 951.9,288.0 953.9,286.0 955.9,284.1 957.9,282.4 959.9,280.4 961.9,278.4 963.9,276.3 965.9,274.0 967.9,271.7 969.9,269.4 971.9,267.4 973.9,265.4 975.9,263.6 977.9,262.1 979.9,260.9 981.9,260.3 983.9,260.3 985.9,261.1 987.9,262.6 989.9,264.4 991.9,266.6 993.9,268.7 995.9,270.8 997.9,272.6 999.9,274.2 1001.9,275.6 1003.9,276.6 1005.9,277.4 1007.9,277.8 1009.9,277.9 1011.9,277.9 1013.9,277.7 1015.9,277.5 1017.9,277.3 1019.9,277.0 1021.9,276.4 1023.9,275.5 1025.9,274.5 1027.9,273.2 1029.9,271.9 1031.9,270.6 1033.9,269.4 1035.9,268.2 1037.9,267.0 1039.9,265.7 1041.9,264.3 1043.9,262.5 1045.9,260.5 1047.9,258.4 1049.9,256.2 1051.9,254.0 1053.9,252.0 1055.9,250.2 1057.9,248.4 1059.9,246.9 1061.9,245.4 1063.9,244.1 1065.9,242.9 1067.9,241.8 1069.9,240.7 1071.9,239.7 1073.9,238.8 1075.9,237.9 1077.9,237.1 1079.9,236.4 1081.9,235.8 1083.9,235.0 1085.9,234.0 1087.9,232.7 1089.9,231.4 1091.9,229.9 1093.9,228.4 1095.9,227.0 1097.9,225.6 1099.9,224.4 1101.9,223.2 1103.9,222.0 1105.9,221.1 1107.9,220.2 1109.9,219.5 1111.9,218.8 1113.9,218.2 1115.9,217.4 1117.9,216.5 1119.9,215.4 1121.9,214.4 1123.9,213.6" fill="none" stroke="#bfd3f1" stroke-width="1.9" stroke-linejoin="round"/>
<polyline points="112.0,557.8 114.0,557.6 116.0,557.4 118.0,557.0 120.0,556.7 122.0,556.4 124.0,556.1 126.0,555.7 128.0,555.4 130.0,555.1 132.0,554.8 134.0,554.4 136.0,554.1 138.0,553.8 140.0,553.4 142.0,553.1 144.0,552.8 146.0,552.4 148.0,552.1 150.0,551.8 152.0,551.4 154.0,551.1 156.0,550.7 158.0,550.4 160.0,550.1 162.0,549.7 164.0,549.4 166.0,549.0 168.0,548.6 170.0,548.2 172.0,547.8 174.0,547.4 176.0,547.0 178.0,546.6 180.0,546.1 182.0,545.7 184.0,545.2 186.0,544.8 188.0,544.3 190.0,543.8 192.0,543.3 194.0,542.8 196.0,542.3 198.0,541.8 200.0,541.3 202.0,540.7 204.0,540.2 206.0,539.6 208.0,539.1 210.0,538.5 212.0,537.9 214.0,537.3 216.0,536.6 218.0,536.0 220.0,535.4 222.0,534.7 224.0,534.0 226.0,533.3 228.0,532.6 230.0,531.9 232.0,531.2 234.0,530.4 236.0,529.7 238.0,528.9 240.0,528.1 242.0,527.4 244.0,526.6 246.0,525.8 248.0,525.0 250.0,524.2 252.0,523.4 254.0,522.6 256.0,521.8 258.0,521.0 260.0,520.2 262.0,519.4 264.0,518.5 266.0,517.7 268.0,516.8 270.0,516.0 272.0,515.1 274.0,514.2 276.0,513.3 278.0,512.4 280.0,511.5 282.0,510.6 284.0,509.6 286.0,508.7 288.0,507.8 290.0,506.8 292.0,505.8 294.0,504.9 296.0,503.9 298.0,502.9 300.0,501.9 302.0,500.9 304.0,500.0 306.0,499.0 308.0,498.0 310.0,497.0 312.0,496.0 314.0,495.0 316.0,494.0 318.0,493.0 320.0,492.0 322.0,491.0 324.0,489.9 326.0,488.9 328.0,487.9 330.0,486.9 332.0,485.9 334.0,484.9 336.0,483.9 338.0,482.9 340.0,481.9 342.0,481.0 344.0,480.0 346.0,479.1 348.0,478.2 350.0,477.2 352.0,476.3 354.0,475.4 356.0,474.5 358.0,473.6 360.0,472.7 362.0,471.9 364.0,471.0 366.0,470.1 368.0,469.2 370.0,468.4 372.0,467.5 374.0,466.6 376.0,465.8 378.0,464.9 380.0,464.1 382.0,463.2 384.0,462.4 386.0,461.5 388.0,460.7 390.0,459.8 392.0,459.0 394.0,458.2 396.0,457.4 398.0,456.6 400.0,455.8 402.0,455.1 404.0,454.3 406.0,453.6 408.0,452.8 410.0,452.1 412.0,451.3 414.0,450.5 416.0,449.8 418.0,449.0 420.0,448.2 422.0,447.4 424.0,446.5 426.0,445.7 428.0,444.8 430.0,443.9 432.0,442.9 434.0,441.9 436.0,440.9 438.0,439.8 440.0,438.7 442.0,437.6 444.0,436.4 446.0,435.2 448.0,434.0 450.0,432.7 452.0,431.5 454.0,430.2 456.0,428.9 458.0,427.7 460.0,426.4 462.0,425.1 464.0,423.8 466.0,422.6 468.0,421.4 470.0,420.2 472.0,419.0 474.0,417.8 476.0,416.7 478.0,415.6 480.0,414.5 482.0,413.4 484.0,412.3 486.0,411.3 488.0,410.2 490.0,409.1 492.0,408.0 494.0,406.9 496.0,405.8 498.0,404.7 500.0,403.5 502.0,402.3 504.0,401.1 506.0,399.8 508.0,398.6 510.0,397.3 512.0,396.0 514.0,394.7 516.0,393.4 518.0,392.1 520.0,390.8 522.0,389.4 524.0,388.1 526.0,386.7 528.0,385.4 530.0,384.0 532.0,382.6 534.0,381.2 536.0,379.8 538.0,378.4 540.0,376.9 542.0,375.5 544.0,374.0 546.0,372.6 548.0,371.2 550.0,369.8 552.0,368.5 554.0,367.2 556.0,365.9 558.0,364.6 560.0,363.4 562.0,362.2 564.0,361.1 566.0,359.9 568.0,358.8 570.0,357.7 572.0,356.6 574.0,355.5 576.0,354.5 578.0,353.5 580.0,352.4 582.0,351.4 584.0,350.4 586.0,349.4 588.0,348.5 590.0,347.5 592.0,346.6 594.0,345.7 596.0,344.8 598.0,343.9 600.0,343.1 602.0,342.2 604.0,341.3 606.0,340.5 608.0,339.6 610.0,338.7 612.0,337.9 614.0,337.0 616.0,336.1 618.0,335.3 620.0,334.4 622.0,333.5 624.0,332.7 626.0,331.8 628.0,331.0 630.0,330.1 632.0,329.3 634.0,328.5 636.0,327.7 638.0,326.9 640.0,326.2 642.0,325.6 644.0,324.9 646.0,324.3 648.0,323.8 650.0,323.2 652.0,322.7 654.0,322.3 656.0,321.8 658.0,321.4 660.0,321.1 662.0,320.7 664.0,320.4 666.0,320.1 668.0,319.7 670.0,319.4 672.0,319.1 674.0,318.7 676.0,318.4 678.0,318.2 680.0,318.0 682.0,317.8 684.0,317.6 686.0,317.5 688.0,317.3 690.0,317.2 692.0,317.1 694.0,316.9 696.0,316.8 698.0,316.7 700.0,316.6 702.0,316.5 704.0,316.4 706.0,316.4 708.0,316.3 710.0,316.3 712.0,316.3 714.0,316.2 716.0,316.2 718.0,316.2 720.0,316.1 722.0,316.1 724.0,316.1 726.0,316.1 728.0,316.0 730.0,316.0 732.0,316.0 734.0,315.9 736.0,315.8 738.0,315.7 740.0,315.6 742.0,315.4 744.0,315.2 746.0,314.9 748.0,314.7 750.0,314.4 752.0,314.1 754.0,313.8 756.0,313.5 758.0,313.1 760.0,312.8 762.0,312.5 764.0,312.1 766.0,311.8 768.0,311.4 770.0,311.1 772.0,310.8 774.0,310.5 776.0,310.2 778.0,310.0 780.0,309.9 782.0,309.7 784.0,309.7 786.0,309.7 788.0,309.7 790.0,309.8 792.0,310.0 794.0,310.1 796.0,310.2 798.0,310.4 800.0,310.6 802.0,310.7 804.0,310.9 806.0,311.1 808.0,311.3 810.0,311.5 812.0,311.7 814.0,311.9 816.0,312.0 818.0,312.2 820.0,312.4 822.0,312.5 824.0,312.6 826.0,312.7 828.0,312.8 830.0,312.9 832.0,313.0 834.0,313.1 836.0,313.3 838.0,313.4 840.0,313.5 842.0,313.7 844.0,313.9 846.0,314.0 848.0,314.2 850.0,314.3 852.0,314.4 854.0,314.5 856.0,314.6 858.0,314.7 860.0,314.7 862.0,314.7 864.0,314.7 866.0,314.7 868.0,314.7 870.0,314.7 872.0,314.6 874.0,314.6 876.0,314.6 878.0,314.5 880.0,314.5 882.0,314.4 884.0,314.3 886.0,314.2 888.0,314.2 890.0,314.1 892.0,314.0 894.0,314.0 896.0,313.9 898.0,313.8 900.0,313.7 902.0,313.6 904.0,313.4 906.0,313.2 908.0,312.9 910.0,312.6 912.0,312.3 914.0,311.9 916.0,311.7 918.0,311.4 920.0,311.3 922.0,311.2 924.0,311.1 926.0,311.1 928.0,311.1 930.0,311.1 932.0,311.2 934.0,311.2 936.0,311.3 938.0,311.4 940.0,311.5 942.0,311.6 944.0,311.7 946.0,311.9 948.0,312.0 950.0,312.1 952.0,312.2 954.0,312.3 956.0,312.3 958.0,312.4 960.0,312.4 962.0,312.4 964.0,312.4 966.0,312.4 968.0,312.4 970.0,312.5 972.0,312.5 974.0,312.5 976.0,312.5 978.0,312.4 980.0,312.4 982.0,312.3 984.0,312.4 986.0,312.5 988.0,312.8 990.0,313.1 992.0,313.5 994.0,313.8 996.0,314.0 998.0,314.2 1000.0,314.3 1002.0,314.5 1004.0,314.8 1006.0,315.0 1008.0,315.3 1010.0,315.7 1012.0,316.0 1014.0,316.4 1016.0,316.7 1018.0,317.1 1020.0,317.4 1022.0,317.7 1024.0,318.0 1026.0,318.3 1028.0,318.5 1030.0,318.8 1032.0,319.0 1034.0,319.2 1036.0,319.5 1038.0,319.7 1040.0,319.9 1042.0,320.1 1044.0,320.2 1046.0,320.3 1048.0,320.4 1050.0,320.4 1052.0,320.3 1054.0,320.1 1056.0,319.9 1058.0,319.6 1060.0,319.3 1062.0,319.0 1064.0,318.7 1066.0,318.4 1068.0,318.1 1070.0,317.9 1072.0,317.6 1074.0,317.4 1076.0,317.1 1078.0,316.9 1080.0,316.7 1082.0,316.4 1084.0,316.1 1086.0,315.9 1088.0,315.5 1090.0,315.2 1092.0,314.8 1094.0,314.4 1096.0,313.9 1098.0,313.4 1100.0,312.9 1102.0,312.4 1104.0,311.9 1106.0,311.4 1108.0,310.9 1110.0,310.4 1112.0,309.9 1114.0,309.4 1116.0,309.0 1118.0,308.6 1120.0,308.3 1122.0,308.0 1124.0,307.8" fill="none" stroke="#f86a6a" stroke-width="1" stroke-linejoin="round"/>
<polyline points="111.9,537.0 113.9,536.8 115.9,536.7 117.9,536.5 119.9,536.3 121.9,536.1 123.9,536.0 125.9,535.8 127.9,535.6 129.9,535.4 131.9,535.3 133.9,535.1 135.9,535.0 137.9,534.9 139.9,534.7 141.9,534.6 143.9,534.4 145.9,534.2 147.9,533.9 149.9,533.6 151.9,533.3 153.9,532.9 155.9,532.5 157.9,532.1 159.9,531.6 161.9,531.0 163.9,530.4 165.9,529.7 167.9,529.0 169.9,528.3 171.9,527.5 173.9,526.8 175.9,526.0 177.9,525.3 179.9,524.5 181.9,523.8 183.9,523.0 185.9,522.3 187.9,521.5 189.9,520.8 191.9,520.0 193.9,519.3 195.9,518.6 197.9,517.8 199.9,517.0 201.9,516.3 203.9,515.5 205.9,514.7 207.9,513.9 209.9,513.0 211.9,512.0 213.9,510.9 215.9,509.7 217.9,508.5 219.9,507.2 221.9,505.9 223.9,504.7 225.9,503.4 227.9,502.3 229.9,501.1 231.9,500.0 233.9,498.9 235.9,497.7 237.9,496.5 239.9,495.2 241.9,493.8 243.9,492.5 245.9,491.1 247.9,489.7 249.9,488.3 251.9,486.9 253.9,485.6 255.9,484.3 257.9,483.1 259.9,481.8 261.9,480.6 263.9,479.4 265.9,478.3 267.9,477.3 269.9,476.4 271.9,475.6 273.9,474.7 275.9,473.9 277.9,472.9 279.9,471.9 281.9,470.8 283.9,469.6 285.9,468.3 287.9,466.9 289.9,465.6 291.9,464.2 293.9,462.7 295.9,461.3 297.9,459.8 299.9,458.3 301.9,456.8 303.9,455.3 305.9,453.8 307.9,452.2 309.9,450.6 311.9,449.1 313.9,447.5 315.9,445.9 317.9,444.3 319.9,442.8 321.9,441.2 323.9,439.6 325.9,437.9 327.9,436.3 329.9,434.6 331.9,432.9 333.9,431.2 335.9,429.6 337.9,427.9 339.9,426.2 341.9,424.6 343.9,422.9 345.9,421.3 347.9,419.6 349.9,417.9 351.9,416.3 353.9,414.5 355.9,412.8 357.9,411.0 359.9,409.2 361.9,407.3 363.9,405.5 365.9,403.6 367.9,401.8 369.9,399.9 371.9,398.1 373.9,396.3 375.9,394.5 377.9,392.8 379.9,391.1 381.9,389.4 383.9,387.8 385.9,386.2 387.9,384.6 389.9,383.1 391.9,381.6 393.9,380.2 395.9,378.8 397.9,377.4 399.9,376.2 401.9,375.0 403.9,373.9 405.9,373.0 407.9,372.2 409.9,371.4 411.9,370.8 413.9,370.1 415.9,369.3 417.9,368.4 419.9,367.4 421.9,366.2 423.9,365.0 425.9,363.8 427.9,362.6 429.9,361.4 431.9,360.3 433.9,359.1 435.9,358.0 437.9,356.9 439.9,355.8 441.9,354.8 443.9,353.8 445.9,352.8 447.9,351.9 449.9,350.9 451.9,349.9 453.9,348.8 455.9,347.7 457.9,346.5 459.9,345.4 461.9,344.2 463.9,343.0 465.9,341.8 467.9,340.6 469.9,339.5 471.9,338.4 473.9,337.3 475.9,336.3 477.9,335.3 479.9,334.3 481.9,333.3 483.9,332.2 485.9,331.1 487.9,329.9 489.9,328.7 491.9,327.6 493.9,326.4 495.9,325.2 497.9,324.1 499.9,322.9 501.9,321.7 503.9,320.5 505.9,319.3 507.9,318.0 509.9,316.7 511.9,315.3 513.9,313.7 515.9,311.9 517.9,310.0 519.9,308.0 521.9,306.0 523.9,304.1 525.9,302.2 527.9,300.4 529.9,298.6 531.9,297.0 533.9,295.5 535.9,294.0 537.9,292.7 539.9,291.5 541.9,290.3 543.9,289.3 545.9,288.3 547.9,287.3 549.9,286.3 551.9,285.3 553.9,284.3 555.9,283.3 557.9,282.4 559.9,281.5 561.9,280.7 563.9,280.0 565.9,279.3 567.9,278.8 569.9,278.4 571.9,278.0 573.9,277.6 575.9,277.2 577.9,276.8 579.9,276.4 581.9,276.0 583.9,275.6 585.9,275.3 587.9,274.9 589.9,274.7 591.9,274.4 593.9,274.2 595.9,274.0 597.9,273.8 599.9,273.7 601.9,273.7 603.9,273.7 605.9,273.8 607.9,273.9 609.9,274.0 611.9,274.0 613.9,274.1 615.9,274.2 617.9,274.3 619.9,274.4 621.9,274.4 623.9,274.5 625.9,274.6 627.9,274.7 629.9,274.8 631.9,274.6 633.9,274.3 635.9,274.1 637.9,273.9 639.9,273.8 641.9,273.9 643.9,274.2 645.9,274.3 647.9,274.4 649.9,274.5 651.9,274.5 653.9,274.5 655.9,274.5 657.9,274.6 659.9,274.7 661.9,274.9 663.9,275.1 665.9,275.4 667.9,275.8 669.9,276.1 671.9,276.4 673.9,276.8 675.9,277.1 677.9,277.6 679.9,278.1 681.9,278.8 683.9,279.6 685.9,280.5 687.9,281.3 689.9,282.1 691.9,282.9 693.9,283.7 695.9,284.6 697.9,285.7 699.9,286.9 701.9,288.2 703.9,289.5 705.9,290.9 707.9,292.1 709.9,293.2 711.9,294.2 713.9,295.2 715.9,296.2 717.9,297.2 719.9,298.2 721.9,299.2 723.9,300.1 725.9,301.1 727.9,302.0 729.9,302.8 731.9,303.6 733.9,304.5 735.9,305.3 737.9,306.1 739.9,306.9 741.9,307.8 743.9,308.6 745.9,309.4 747.9,310.3 749.9,311.1 751.9,311.9 753.9,312.8 755.9,313.6 757.9,314.4 759.9,315.2 761.9,316.1 763.9,316.9 765.9,317.8 767.9,318.7 769.9,319.6 771.9,320.6 773.9,321.6 775.9,322.7 777.9,323.7 779.9,324.8 781.9,325.9 783.9,327.1 785.9,328.4 787.9,329.9 789.9,331.2 791.9,332.5 793.9,333.8 795.9,335.1 797.9,336.4 799.9,337.9 801.9,339.4 803.9,340.8 805.9,342.0 807.9,343.0 809.9,343.9 811.9,344.7 813.9,345.3 815.9,346.0 817.9,346.5 819.9,347.0 821.9,347.4 823.9,347.8 825.9,348.3 827.9,348.7 829.9,349.2 831.9,349.8 833.9,350.4 835.9,351.0 837.9,351.6 839.9,352.3 841.9,352.9 843.9,353.4 845.9,353.8 847.9,354.2 849.9,354.4 851.9,354.6 853.9,354.7 855.9,354.8 857.9,354.9 859.9,355.0 861.9,355.1 863.9,355.1 865.9,355.2 867.9,355.2 869.9,355.2 871.9,355.3 873.9,355.3 875.9,355.3 877.9,355.3 879.9,355.2 881.9,355.2 883.9,355.1 885.9,354.9 887.9,354.7 889.9,354.5 891.9,354.2 893.9,353.8 895.9,353.3 897.9,352.8 899.9,352.2 901.9,351.7 903.9,351.1 905.9,350.5 907.9,349.9 909.9,349.3 911.9,348.6 913.9,348.0 915.9,347.3 917.9,346.5 919.9,345.7 921.9,344.9 923.9,344.1 925.9,343.3 927.9,342.5 929.9,341.7 931.9,340.9 933.9,340.1 935.9,339.3 937.9,338.5 939.9,337.7 941.9,336.9 943.9,336.1 945.9,335.3 947.9,334.5 949.9,333.5 951.9,332.6 953.9,331.6 955.9,330.7 957.9,329.8 959.9,329.0 961.9,328.2 963.9,327.2 965.9,326.1 967.9,324.9 969.9,323.7 971.9,322.5 973.9,321.5 975.9,320.6 977.9,319.6 979.9,318.8 981.9,317.9 983.9,317.2 985.9,316.5 987.9,316.0 989.9,315.5 991.9,315.1 993.9,314.8 995.9,314.5 997.9,314.3 999.9,314.1 1001.9,313.9 1003.9,313.6 1005.9,313.4 1007.9,313.2 1009.9,312.9 1011.9,312.6 1013.9,312.3 1015.9,312.0 1017.9,311.6 1019.9,311.3 1021.9,310.8 1023.9,310.4 1025.9,309.8 1027.9,309.2 1029.9,308.6 1031.9,307.8 1033.9,307.0 1035.9,306.1 1037.9,305.1 1039.9,304.1 1041.9,303.1 1043.9,302.0 1045.9,300.9 1047.9,299.8 1049.9,298.6 1051.9,297.5 1053.9,296.3 1055.9,295.1 1057.9,293.9 1059.9,292.7 1061.9,291.4 1063.9,290.1 1065.9,288.9 1067.9,287.7 1069.9,286.5 1071.9,285.3 1073.9,284.1 1075.9,283.0 1077.9,281.9 1079.9,280.8 1081.9,279.7 1083.9,278.7 1085.9,277.7 1087.9,276.6 1089.9,275.6 1091.9,274.5 1093.9,273.5 1095.9,272.4 1097.9,271.3 1099.9,270.3 1101.9,269.3 1103.9,268.4 1105.9,267.4 1107.9,266.5 1109.9,265.6 1111.9,264.6 1113.9,263.7 1115.9,262.7 1117.9,261.7 1119.9,260.7 1121.9,259.9 1123.9,259.3" fill="none" stroke="#7a55f7" stroke-width="2.2" stroke-linejoin="round" stroke-linecap="round"/>
<polyline points="111.9,531.8 113.9,531.7 115.9,531.7 117.9,531.5 119.9,531.4 121.9,531.3 123.9,531.2 125.9,531.1 127.9,530.9 129.9,530.7 131.9,530.6 133.9,530.4 135.9,530.1 137.9,529.9 139.9,529.6 141.9,529.3 143.9,529.0 145.9,528.6 147.9,528.3 149.9,527.9 151.9,527.4 153.9,527.0 155.9,526.4 157.9,525.9 159.9,525.2 161.9,524.5 163.9,523.8 165.9,523.0 167.9,522.1 169.9,521.1 171.9,520.1 173.9,518.9 175.9,517.7 177.9,516.3 179.9,514.9 181.9,513.5 183.9,512.1 185.9,510.7 187.9,509.3 189.9,507.8 191.9,506.4 193.9,504.8 195.9,503.3 197.9,501.6 199.9,500.0 201.9,498.2 203.9,496.5 205.9,494.7 207.9,492.8 209.9,490.9 211.9,488.9 213.9,486.9 215.9,484.9 217.9,482.8 219.9,480.6 221.9,478.5 223.9,476.3 225.9,474.1 227.9,471.9 229.9,469.7 231.9,467.5 233.9,465.1 235.9,462.7 237.9,460.2 239.9,457.6 241.9,455.0 243.9,452.5 245.9,450.0 247.9,447.6 249.9,445.2 251.9,442.7 253.9,440.3 255.9,437.8 257.9,435.4 259.9,433.1 261.9,431.0 263.9,429.0 265.9,427.1 267.9,425.4 269.9,423.8 271.9,422.3 273.9,421.0 275.9,419.8 277.9,418.7 279.9,417.6 281.9,416.5 283.9,415.4 285.9,414.1 287.9,412.7 289.9,411.2 291.9,409.6 293.9,407.9 295.9,406.1 297.9,404.1 299.9,402.2 301.9,400.2 303.9,398.2 305.9,396.3 307.9,394.4 309.9,392.7 311.9,391.0 313.9,389.4 315.9,387.8 317.9,386.2 319.9,384.7 321.9,383.2 323.9,381.7 325.9,380.2 327.9,378.7 329.9,377.2 331.9,375.7 333.9,374.2 335.9,372.8 337.9,371.4 339.9,370.1 341.9,368.9 343.9,367.8 345.9,366.7 347.9,365.6 349.9,364.6 351.9,363.6 353.9,362.6 355.9,361.6 357.9,360.4 359.9,359.2 361.9,357.9 363.9,356.6 365.9,355.3 367.9,354.0 369.9,352.7 371.9,351.5 373.9,350.3 375.9,349.2 377.9,348.0 379.9,346.9 381.9,345.7 383.9,344.5 385.9,343.4 387.9,342.2 389.9,341.0 391.9,339.8 393.9,338.6 395.9,337.5 397.9,336.4 399.9,335.3 401.9,334.3 403.9,333.4 405.9,332.6 407.9,331.9 409.9,331.3 411.9,330.8 413.9,330.4 415.9,330.1 417.9,329.8 419.9,329.5 421.9,329.2 423.9,328.9 425.9,328.5 427.9,328.2 429.9,327.8 431.9,327.4 433.9,327.0 435.9,326.5 437.9,325.9 439.9,325.3 441.9,324.7 443.9,324.0 445.9,323.3 447.9,322.7 449.9,322.2 451.9,321.8 453.9,321.1 455.9,320.3 457.9,319.1 459.9,317.6 461.9,316.0 463.9,314.5 465.9,313.2 467.9,312.0 469.9,310.9 471.9,309.8 473.9,308.7 475.9,307.7 477.9,306.8 479.9,305.9 481.9,305.0 483.9,304.2 485.9,303.3 487.9,302.5 489.9,301.6 491.9,300.7 493.9,299.8 495.9,298.8 497.9,297.7 499.9,296.6 501.9,295.4 503.9,294.2 505.9,292.9 507.9,291.5 509.9,290.0 511.9,288.5 513.9,286.8 515.9,285.0 517.9,283.0 519.9,280.9 521.9,278.6 523.9,276.0 525.9,273.2 527.9,270.2 529.9,266.9 531.9,263.6 533.9,260.4 535.9,257.3 537.9,254.5 539.9,252.0 541.9,249.7 543.9,247.6 545.9,245.6 547.9,243.7 549.9,242.0 551.9,240.4 553.9,239.0 555.9,237.7 557.9,236.5 559.9,235.5 561.9,234.6 563.9,233.8 565.9,233.2 567.9,232.7 569.9,232.3 571.9,232.2 573.9,232.1 575.9,232.3 577.9,232.5 579.9,232.8 581.9,233.2 583.9,233.6 585.9,234.1 587.9,234.6 589.9,235.2 591.9,235.8 593.9,236.5 595.9,237.3 597.9,238.0 599.9,238.8 601.9,239.6 603.9,240.5 605.9,241.6 607.9,242.8 609.9,244.1 611.9,245.5 613.9,246.9 615.9,248.5 617.9,250.2 619.9,251.9 621.9,253.3 623.9,254.7 625.9,256.0 627.9,257.2 629.9,258.5 631.9,260.0 633.9,261.5 635.9,263.1 637.9,264.8 639.9,266.6 641.9,268.5 643.9,270.7 645.9,273.1 647.9,275.6 649.9,278.2 651.9,280.9 653.9,283.7 655.9,286.5 657.9,289.3 659.9,292.0 661.9,294.6 663.9,297.2 665.9,299.8 667.9,302.4 669.9,304.9 671.9,307.5 673.9,310.2 675.9,312.9 677.9,315.6 679.9,318.4 681.9,321.2 683.9,324.0 685.9,326.6 687.9,329.1 689.9,331.4 691.9,333.5 693.9,335.3 695.9,337.0 697.9,338.6 699.9,340.1 701.9,341.7 703.9,343.2 705.9,344.8 707.9,346.5 709.9,348.1 711.9,349.7 713.9,351.3 715.9,352.8 717.9,354.4 719.9,355.9 721.9,357.3 723.9,358.5 725.9,359.6 727.9,360.6 729.9,361.3 731.9,362.0 733.9,362.6 735.9,363.1 737.9,363.7 739.9,364.2 741.9,364.7 743.9,365.2 745.9,365.7 747.9,366.1 749.9,366.5 751.9,366.9 753.9,367.2 755.9,367.2 757.9,367.1 759.9,366.7 761.9,366.2 763.9,365.6 765.9,364.9 767.9,364.1 769.9,363.4 771.9,362.7 773.9,362.1 775.9,361.5 777.9,360.9 779.9,360.4 781.9,360.0 783.9,359.5 785.9,359.2 787.9,358.9 789.9,358.6 791.9,358.4 793.9,358.1 795.9,357.9 797.9,357.7 799.9,357.4 801.9,357.1 803.9,356.8 805.9,356.4 807.9,355.9 809.9,355.4 811.9,354.9 813.9,354.4 815.9,354.0 817.9,353.6 819.9,353.2 821.9,352.9 823.9,352.6 825.9,352.2 827.9,351.8 829.9,351.3 831.9,350.8 833.9,350.3 835.9,349.8 837.9,349.4 839.9,349.0 841.9,348.6 843.9,348.3 845.9,348.0 847.9,347.8 849.9,347.6 851.9,347.4 853.9,347.3 855.9,347.1 857.9,346.8 859.9,346.5 861.9,346.2 863.9,345.8 865.9,345.6 867.9,345.4 869.9,345.3 871.9,345.4 873.9,345.5 875.9,345.6 877.9,345.7 879.9,345.8 881.9,345.9 883.9,346.0 885.9,346.0 887.9,346.1 889.9,346.1 891.9,346.1 893.9,346.1 895.9,346.0 897.9,345.7 899.9,345.4 901.9,344.9 903.9,344.2 905.9,343.5 907.9,342.8 909.9,342.0 911.9,341.2 913.9,340.2 915.9,339.0 917.9,337.8 919.9,336.4 921.9,335.0 923.9,333.7 925.9,332.4 927.9,331.2 929.9,330.0 931.9,328.8 933.9,327.6 935.9,326.4 937.9,325.2 939.9,323.9 941.9,322.5 943.9,320.9 945.9,319.4 947.9,317.7 949.9,316.1 951.9,314.4 953.9,312.8 955.9,311.3 957.9,309.9 959.9,308.3 961.9,306.6 963.9,304.8 965.9,302.8 967.9,300.8 969.9,298.8 971.9,296.8 973.9,294.9 975.9,293.0 977.9,291.2 979.9,289.7 981.9,288.3 983.9,287.2 985.9,286.4 987.9,285.7 989.9,285.1 991.9,284.6 993.9,284.1 995.9,283.7 997.9,283.1 999.9,282.5 1001.9,281.9 1003.9,281.2 1005.9,280.5 1007.9,279.8 1009.9,279.3 1011.9,278.8 1013.9,278.3 1015.9,277.8 1017.9,277.3 1019.9,276.7 1021.9,276.1 1023.9,275.4 1025.9,274.7 1027.9,274.0 1029.9,273.4 1031.9,272.9 1033.9,272.6 1035.9,272.4 1037.9,272.2 1039.9,271.8 1041.9,271.1 1043.9,270.1 1045.9,268.9 1047.9,267.5 1049.9,266.1 1051.9,264.8 1053.9,263.7 1055.9,262.6 1057.9,261.8 1059.9,261.0 1061.9,260.2 1063.9,259.5 1065.9,258.8 1067.9,258.0 1069.9,257.2 1071.9,256.3 1073.9,255.6 1075.9,254.9 1077.9,254.3 1079.9,253.8 1081.9,253.4 1083.9,253.0 1085.9,252.5 1087.9,252.0 1089.9,251.6 1091.9,251.3 1093.9,251.0 1095.9,250.8 1097.9,250.5 1099.9,250.2 1101.9,249.7 1103.9,249.2 1105.9,248.4 1107.9,247.4 1109.9,246.1 1111.9,244.6 1113.9,242.9 1115.9,241.3 1117.9,239.7 1119.9,238.3 1121.9,237.2 1123.9,236.5" fill="none" stroke="#38ff38" stroke-opacity="0.82" stroke-width="4.0" stroke-linejoin="round" stroke-linecap="round"/>
<path d="M110 195.5H1246" stroke="#e0458f" stroke-width="1" stroke-dasharray="1.6 1.45" fill="none"/>
<path d="M802.3 386.7L1110.3 215.8" stroke="#ff0000" stroke-width="2.0" fill="none"/>
<rect x="529.6" y="164.5" width="573.9" height="415.0" fill="#3f7fe8" fill-opacity="0.18"/>
<path d="M529.6 165.0H1103.5" stroke="#3d7be0" stroke-width="1.2" fill="none"/>
<path d="M529.6 222.4H1103.5" stroke="#3d7be0" stroke-width="1.2" fill="none"/>
<path d="M529.6 258.0H1103.5" stroke="#3d7be0" stroke-width="1.2" fill="none"/>
<path d="M529.6 286.7H1103.5" stroke="#3d7be0" stroke-width="1.2" fill="none"/>
<path d="M529.6 315.4H1103.5" stroke="#3d7be0" stroke-width="1.2" fill="none"/>
<path d="M529.6 356.2H1103.5" stroke="#3d7be0" stroke-width="1.2" fill="none"/>
<path d="M529.6 408.3H1103.5" stroke="#3d7be0" stroke-width="1.2" fill="none"/>
<path d="M529.6 558.6H1103.5" stroke="#3d7be0" stroke-width="1.2" fill="none"/>
<path d="M537 165L1103.5 408" stroke="#4a86e8" stroke-width="1.1" stroke-dasharray="6 6" fill="none"/>
<text x="526" y="169.8" font-size="14.1" text-anchor="end" fill="#5a90ee" fill-opacity="0.85" stroke="#5a90ee" stroke-width="0.3" stroke-opacity="0.5">0(152.252)</text>
<text x="526" y="227.2" font-size="14.1" text-anchor="end" fill="#5a90ee" fill-opacity="0.85" stroke="#5a90ee" stroke-width="0.3" stroke-opacity="0.5">0.236(146.380)</text>
<text x="526" y="262.8" font-size="14.1" text-anchor="end" fill="#5a90ee" fill-opacity="0.85" stroke="#5a90ee" stroke-width="0.3" stroke-opacity="0.5">0.382(142.746)</text>
<text x="526" y="291.5" font-size="14.1" text-anchor="end" fill="#5a90ee" fill-opacity="0.85" stroke="#5a90ee" stroke-width="0.3" stroke-opacity="0.5">0.5(139.810)</text>
<text x="526" y="320.2" font-size="14.1" text-anchor="end" fill="#5a90ee" fill-opacity="0.85" stroke="#5a90ee" stroke-width="0.3" stroke-opacity="0.5">0.618(136.874)</text>
<text x="526" y="361.0" font-size="14.1" text-anchor="end" fill="#5a90ee" fill-opacity="0.85" stroke="#5a90ee" stroke-width="0.3" stroke-opacity="0.5">0.786(132.693)</text>
<text x="526" y="413.1" font-size="14.1" text-anchor="end" fill="#5a90ee" fill-opacity="0.85" stroke="#5a90ee" stroke-width="0.3" stroke-opacity="0.5">1(127.368)</text>
<text x="526" y="563.4" font-size="14.1" text-anchor="end" fill="#5a90ee" fill-opacity="0.85" stroke="#5a90ee" stroke-width="0.3" stroke-opacity="0.5">1.618(111.989)</text>
<path d="M536 167.5L699.5 391.5" stroke="#1b8a82" stroke-width="3.4" stroke-linecap="butt" fill="none"/>
<path d="M794.5 357.3L1117.3 188.7" stroke="#ff9a12" stroke-width="1.9" fill="none"/>
<g clip-path="url(#cp1)">
<path d="M111.5 663.8V665.9 M113.5 663.8V665.3 M116.5 663.8V665.0 M118.5 663.8V664.9 M121.5 663.8V663.5 M123.5 663.8V663.1 M125.5 663.8V662.9 M128.5 663.8V662.1 M130.5 663.8V663.4 M133.5 663.8V663.7 M135.5 663.8V663.2 M138.5 663.8V663.4 M140.5 663.8V663.7 M142.5 663.8V662.8 M145.5 663.8V661.8 M147.5 663.8V658.8 M150.5 663.8V656.7 M152.5 663.8V654.7 M155.5 663.8V653.5 M157.5 663.8V651.6 M159.5 663.8V653.1 M162.5 663.8V653.1 M164.5 663.8V651.6 M167.5 663.8V651.6 M169.5 663.8V649.7 M172.5 663.8V647.5 M174.5 663.8V646.3 M177.5 663.8V645.0 M179.5 663.8V649.6 M181.5 663.8V654.1 M184.5 663.8V657.4 M186.5 663.8V660.2 M189.5 663.8V659.1 M191.5 663.8V660.1 M194.5 663.8V659.3 M196.5 663.8V659.9 M198.5 663.8V658.5 M201.5 663.8V659.8 M203.5 663.8V661.4 M206.5 663.8V660.5 M208.5 663.8V660.9 M211.5 663.8V660.3 M213.5 663.8V659.2 M215.5 663.8V656.0 M218.5 663.8V655.5 M220.5 663.8V656.3 M223.5 663.8V659.8 M225.5 663.8V664.5 M228.5 663.8V666.3 M230.5 663.8V663.4 M232.5 663.8V663.5 M235.5 663.8V663.7 M237.5 663.8V664.4 M240.5 663.8V666.3 M242.5 663.8V667.4 M245.5 663.8V667.1 M247.5 663.8V666.2 M250.5 663.8V667.6 M252.5 663.8V669.1 M254.5 663.8V672.7 M257.5 663.8V675.1 M259.5 663.8V675.1 M262.5 663.8V675.9 M264.5 663.8V677.9 M267.5 663.8V679.1 M269.5 663.8V679.6 M271.5 663.8V679.5 M274.5 663.8V680.2 M276.5 663.8V681.2 M279.5 663.8V680.5 M281.5 663.8V681.6 M284.5 663.8V679.3 M286.5 663.8V675.9 M288.5 663.8V671.6 M291.5 663.8V667.6 M293.5 663.8V662.7 M296.5 663.8V657.7 M298.5 663.8V653.7 M301.5 663.8V648.5 M303.5 663.8V644.3 M305.5 663.8V644.9 M308.5 663.8V646.6 M310.5 663.8V647.0 M313.5 663.8V647.9 M315.5 663.8V653.7 M318.5 663.8V654.5 M320.5 663.8V655.7 M323.5 663.8V656.3 M325.5 663.8V657.7 M327.5 663.8V660.3 M330.5 663.8V663.3 M332.5 663.8V665.5 M335.5 663.8V665.5 M337.5 663.8V664.6 M340.5 663.8V664.3 M342.5 663.8V666.2 M344.5 663.8V669.4 M347.5 663.8V670.4 M349.5 663.8V670.3 M352.5 663.8V669.6 M354.5 663.8V669.0 M357.5 663.8V666.9 M359.5 663.8V666.4 M361.5 663.8V664.1 M364.5 663.8V661.7 M366.5 663.8V660.2 M369.5 663.8V662.0 M371.5 663.8V663.1 M374.5 663.8V665.1 M376.5 663.8V666.5 M378.5 663.8V670.2 M381.5 663.8V673.0 M383.5 663.8V674.5 M386.5 663.8V675.1 M388.5 663.8V675.8 M391.5 663.8V680.3 M393.5 663.8V686.7 M396.5 663.8V687.5 M398.5 663.8V684.9 M400.5 663.8V685.5 M403.5 663.8V679.8 M405.5 663.8V674.2 M408.5 663.8V671.4 M410.5 663.8V672.8 M413.5 663.8V673.3 M415.5 663.8V673.1 M417.5 663.8V671.8 M420.5 663.8V668.6 M422.5 663.8V665.3 M425.5 663.8V660.9 M427.5 663.8V655.8 M430.5 663.8V651.7 M432.5 663.8V650.3 M434.5 663.8V651.1 M437.5 663.8V651.4 M439.5 663.8V650.6 M442.5 663.8V650.1 M444.5 663.8V648.6 M447.5 663.8V647.4 M449.5 663.8V647.7 M451.5 663.8V646.9 M454.5 663.8V648.1 M456.5 663.8V648.1 M459.5 663.8V642.7 M461.5 663.8V640.9 M464.5 663.8V644.4 M466.5 663.8V648.7 M469.5 663.8V648.9 M471.5 663.8V651.2 M473.5 663.8V654.5 M476.5 663.8V658.7 M478.5 663.8V661.1 M481.5 663.8V663.8 M483.5 663.8V665.4 M486.5 663.8V669.8 M488.5 663.8V672.9 M490.5 663.8V670.3 M493.5 663.8V669.3 M495.5 663.8V669.4 M498.5 663.8V669.4 M500.5 663.8V668.2 M503.5 663.8V668.6 M505.5 663.8V670.9 M507.5 663.8V670.1 M510.5 663.8V669.6 M512.5 663.8V669.2 M515.5 663.8V667.1 M517.5 663.8V666.4 M520.5 663.8V664.5 M522.5 663.8V660.9 M524.5 663.8V657.1 M527.5 663.8V655.7 M529.5 663.8V654.6 M532.5 663.8V654.4 M534.5 663.8V653.4 M537.5 663.8V655.3 M539.5 663.8V661.6 M542.5 663.8V664.7 M544.5 663.8V668.7 M546.5 663.8V674.3 M549.5 663.8V674.9 M551.5 663.8V673.5 M554.5 663.8V672.3 M556.5 663.8V673.4 M559.5 663.8V672.8 M561.5 663.8V672.1 M563.5 663.8V673.3 M566.5 663.8V677.5 M568.5 663.8V678.6 M571.5 663.8V681.8 M573.5 663.8V694.7 M576.5 663.8V699.7 M578.5 663.8V702.7 M580.5 663.8V700.8 M583.5 663.8V695.6 M585.5 663.8V691.9 M588.5 663.8V682.6 M590.5 663.8V677.4 M593.5 663.8V675.4 M595.5 663.8V676.3 M598.5 663.8V674.7 M600.5 663.8V674.1 M602.5 663.8V671.2 M605.5 663.8V670.5 M607.5 663.8V675.5 M610.5 663.8V680.0 M612.5 663.8V677.4 M615.5 663.8V674.2 M617.5 663.8V670.6 M619.5 663.8V667.4 M622.5 663.8V664.0 M624.5 663.8V659.8 M627.5 663.8V657.8 M629.5 663.8V657.6 M632.5 663.8V655.3 M634.5 663.8V653.7 M636.5 663.8V654.3 M639.5 663.8V655.8 M641.5 663.8V664.5 M644.5 663.8V669.5 M646.5 663.8V671.0 M649.5 663.8V671.7 M651.5 663.8V668.8 M653.5 663.8V665.1 M656.5 663.8V662.2 M658.5 663.8V664.4 M661.5 663.8V667.5 M663.5 663.8V666.9 M666.5 663.8V663.8 M668.5 663.8V660.8 M671.5 663.8V659.3 M673.5 663.8V658.2 M675.5 663.8V658.9 M678.5 663.8V659.3 M680.5 663.8V662.8 M683.5 663.8V668.8 M685.5 663.8V672.1 M688.5 663.8V671.1 M690.5 663.8V669.4 M692.5 663.8V667.5 M695.5 663.8V661.6 M697.5 663.8V656.0 M700.5 663.8V654.9 M702.5 663.8V654.9 M705.5 663.8V655.1 M707.5 663.8V653.0 M709.5 663.8V653.4 M712.5 663.8V652.6 M714.5 663.8V655.5 M717.5 663.8V656.2 M719.5 663.8V653.3 M722.5 663.8V648.5 M724.5 663.8V647.0 M726.5 663.8V648.8 M729.5 663.8V649.8 M731.5 663.8V650.9 M734.5 663.8V649.8 M736.5 663.8V647.6 M739.5 663.8V646.4 M741.5 663.8V646.7 M744.5 663.8V647.8 M746.5 663.8V648.7 M748.5 663.8V647.3 M751.5 663.8V649.0 M753.5 663.8V651.2 M756.5 663.8V649.9 M758.5 663.8V649.3 M761.5 663.8V650.4 M763.5 663.8V651.7 M765.5 663.8V653.9 M768.5 663.8V656.4 M770.5 663.8V659.7 M773.5 663.8V659.4 M775.5 663.8V658.9 M778.5 663.8V661.2 M780.5 663.8V665.2 M782.5 663.8V671.2 M785.5 663.8V673.5 M787.5 663.8V675.2 M790.5 663.8V679.2 M792.5 663.8V681.4 M795.5 663.8V682.8 M797.5 663.8V681.4 M799.5 663.8V682.1 M802.5 663.8V684.1 M804.5 663.8V683.7 M807.5 663.8V682.1 M809.5 663.8V678.0 M812.5 663.8V671.9 M814.5 663.8V668.8 M817.5 663.8V665.8 M819.5 663.8V664.5 M821.5 663.8V666.5 M824.5 663.8V666.5 M826.5 663.8V665.4 M829.5 663.8V664.5 M831.5 663.8V662.5 M834.5 663.8V659.2 M836.5 663.8V659.5 M838.5 663.8V658.8 M841.5 663.8V657.0 M843.5 663.8V654.7 M846.5 663.8V652.5 M848.5 663.8V652.5 M851.5 663.8V654.1 M853.5 663.8V655.3 M855.5 663.8V656.7 M858.5 663.8V659.8 M860.5 663.8V660.3 M863.5 663.8V660.1 M865.5 663.8V655.5 M868.5 663.8V651.5 M870.5 663.8V652.8 M872.5 663.8V657.5 M875.5 663.8V660.3 M877.5 663.8V661.4 M880.5 663.8V663.8 M882.5 663.8V663.6 M885.5 663.8V665.0 M887.5 663.8V666.6 M890.5 663.8V665.6 M892.5 663.8V663.9 M894.5 663.8V661.1 M897.5 663.8V657.1 M899.5 663.8V655.2 M902.5 663.8V654.5 M904.5 663.8V653.1 M907.5 663.8V654.1 M909.5 663.8V654.0 M911.5 663.8V652.6 M914.5 663.8V651.8 M916.5 663.8V653.0 M919.5 663.8V655.3 M921.5 663.8V658.0 M924.5 663.8V662.1 M926.5 663.8V662.3 M928.5 663.8V664.7 M931.5 663.8V665.6 M933.5 663.8V666.9 M936.5 663.8V669.0 M938.5 663.8V671.7 M941.5 663.8V670.6 M943.5 663.8V668.5 M945.5 663.8V667.8 M948.5 663.8V664.3 M950.5 663.8V662.2 M953.5 663.8V662.3 M955.5 663.8V663.1 M958.5 663.8V662.6 M960.5 663.8V659.7 M963.5 663.8V659.3 M965.5 663.8V660.3 M967.5 663.8V658.7 M970.5 663.8V656.1 M972.5 663.8V656.0 M975.5 663.8V657.1 M977.5 663.8V657.8 M980.5 663.8V660.1 M982.5 663.8V662.1 M984.5 663.8V664.1 M987.5 663.8V669.9 M989.5 663.8V676.6 M992.5 663.8V683.4 M994.5 663.8V689.5 M997.5 663.8V691.8 M999.5 663.8V691.0 M1001.5 663.8V689.4 M1004.5 663.8V686.8 M1006.5 663.8V682.4 M1009.5 663.8V675.1 M1011.5 663.8V670.1 M1014.5 663.8V665.9 M1016.5 663.8V664.3 M1018.5 663.8V666.2 M1021.5 663.8V667.4 M1023.5 663.8V664.6 M1026.5 663.8V659.4 M1028.5 663.8V657.0 M1031.5 663.8V655.3 M1033.5 663.8V656.4 M1036.5 663.8V658.4 M1038.5 663.8V658.2 M1040.5 663.8V656.6 M1043.5 663.8V653.9 M1045.5 663.8V651.2 M1048.5 663.8V649.5 M1050.5 663.8V649.7 M1053.5 663.8V649.8 M1055.5 663.8V650.8 M1057.5 663.8V652.6 M1060.5 663.8V654.8 M1062.5 663.8V657.1 M1065.5 663.8V659.6 M1067.5 663.8V662.1 M1070.5 663.8V661.9 M1072.5 663.8V663.1 M1074.5 663.8V663.3 M1077.5 663.8V664.8 M1079.5 663.8V667.2 M1082.5 663.8V668.5 M1084.5 663.8V667.7 M1087.5 663.8V666.5 M1089.5 663.8V662.8 M1092.5 663.8V662.1 M1094.5 663.8V662.1 M1096.5 663.8V661.8 M1099.5 663.8V664.7 M1101.5 663.8V664.7 M1104.5 663.8V665.4 M1106.5 663.8V664.9 M1109.5 663.8V665.1 M1111.5 663.8V665.7 M1113.5 663.8V665.3 M1116.5 663.8V665.0 M1118.5 663.8V665.5 M1121.5 663.8V665.0 M1123.5 663.8V663.7" stroke="#ee4a44" stroke-width="1" fill="none" shape-rendering="crispEdges"/>
<polyline points="111.3,660.0 113.7,660.4 116.2,660.7 118.6,661.0 121.0,660.9 123.5,660.7 125.9,660.5 128.3,660.0 130.8,659.9 133.2,659.9 135.6,659.7 138.1,659.7 140.5,659.6 142.9,659.4 145.4,658.9 147.8,657.6 150.2,655.8 152.7,653.6 155.1,651.0 157.5,647.9 160.0,645.2 162.4,642.6 164.8,639.5 167.3,636.4 169.7,632.9 172.1,628.9 174.6,624.5 177.0,619.8 179.4,616.2 181.9,613.8 184.3,612.2 186.7,611.3 189.2,610.1 191.6,609.1 194.0,608.0 196.5,607.0 198.9,605.7 201.3,604.7 203.8,604.1 206.2,603.3 208.6,602.6 211.1,601.7 213.5,600.6 215.9,598.6 218.4,596.5 220.8,594.7 223.2,593.7 225.7,593.8 228.1,594.5 230.5,594.4 233.0,594.3 235.4,594.3 237.8,594.4 240.3,595.0 242.7,595.9 245.1,596.7 247.6,597.3 250.0,598.3 252.4,599.6 254.9,601.8 257.3,604.7 259.7,607.5 262.2,610.5 264.6,614.0 267.0,617.9 269.5,621.8 271.9,625.7 274.3,629.8 276.8,634.2 279.2,638.4 281.6,642.8 284.1,646.7 286.5,649.7 288.9,651.7 291.4,652.6 293.8,652.4 296.2,650.8 298.7,648.3 301.1,644.5 303.5,639.6 306.0,634.8 308.4,630.5 310.8,626.4 313.3,622.4 315.7,619.9 318.1,617.5 320.6,615.5 323.0,613.6 325.4,612.1 327.9,611.2 330.3,611.1 332.7,611.6 335.2,612.0 337.6,612.2 340.0,612.3 342.5,612.9 344.9,614.3 347.3,615.9 349.8,617.6 352.2,619.0 354.6,620.3 357.1,621.1 359.5,621.7 362.0,621.8 364.4,621.3 366.8,620.4 369.3,620.0 371.7,619.8 374.1,620.1 376.6,620.8 379.0,622.4 381.4,624.7 383.9,627.4 386.3,630.2 388.7,633.2 391.2,637.3 393.6,643.0 396.0,648.9 398.5,654.2 400.9,659.6 403.3,663.6 405.8,666.2 408.2,668.1 410.6,670.4 413.1,672.7 415.5,675.1 417.9,677.1 420.4,678.3 422.8,678.6 425.2,677.9 427.7,675.9 430.1,672.9 432.5,669.5 435.0,666.3 437.4,663.2 439.8,659.9 442.3,656.5 444.7,652.7 447.1,648.6 449.6,644.6 452.0,640.3 454.4,636.4 456.9,632.5 459.3,627.2 461.7,621.5 464.2,616.6 466.6,612.8 469.0,609.1 471.5,606.0 473.9,603.6 476.3,602.4 478.8,601.7 481.2,601.7 483.6,602.1 486.1,603.6 488.5,605.9 490.9,607.5 493.4,608.9 495.8,610.3 498.2,611.7 500.7,612.8 503.1,614.0 505.5,615.8 508.0,617.4 510.4,618.8 512.8,620.2 515.3,621.0 517.7,621.6 520.1,621.8 522.6,621.1 525.0,619.4 527.4,617.4 529.9,615.1 532.3,612.7 534.7,610.1 537.2,608.0 539.6,607.4 542.0,607.7 544.5,608.9 546.9,611.5 549.3,614.3 551.8,616.7 554.2,618.8 556.6,621.2 559.1,623.5 561.5,625.5 563.9,627.9 566.4,631.3 568.8,635.0 571.2,639.5 573.7,647.3 576.1,656.2 578.5,666.0 581.0,675.2 583.4,683.2 585.8,690.2 588.3,694.9 590.7,698.3 593.1,701.2 595.6,704.3 598.0,707.1 600.4,709.6 602.9,711.5 605.3,713.2 607.7,716.1 610.2,720.1 612.6,723.5 615.0,726.1 617.5,727.8 619.9,728.7 622.3,728.8 624.8,727.8 627.2,726.3 629.6,724.8 632.1,722.6 634.5,720.1 636.9,717.7 639.4,715.7 641.8,715.9 644.2,717.3 646.7,719.1 649.1,721.1 651.5,722.3 654.0,722.7 656.4,722.3 658.8,722.4 661.3,723.3 663.7,724.1 666.1,724.1 668.6,723.4 671.0,722.3 673.4,720.9 675.9,719.6 678.3,718.5 680.7,718.3 683.2,719.5 685.6,721.6 688.0,723.4 690.5,724.8 692.9,725.8 695.3,725.2 697.8,723.3 700.2,721.0 702.6,718.8 705.1,716.6 707.5,713.9 709.9,711.3 712.4,708.6 714.8,706.5 717.2,704.6 719.7,702.0 722.1,698.1 724.5,693.9 727.0,690.2 729.4,686.7 731.8,683.5 734.3,680.0 736.7,675.9 739.1,671.6 741.6,667.3 744.0,663.3 746.4,659.5 748.9,655.4 751.3,651.7 753.7,648.5 756.2,645.1 758.6,641.5 761.0,638.1 763.5,635.1 765.9,632.6 768.3,630.8 770.8,629.7 773.2,628.6 775.6,627.4 778.1,626.8 780.5,627.1 782.9,629.0 785.4,631.4 787.8,634.2 790.2,638.1 792.7,642.5 795.1,647.3 797.5,651.6 800.0,656.2 802.4,661.3 804.8,666.3 807.3,670.9 809.7,674.4 812.1,676.4 814.6,677.7 817.0,678.2 819.4,678.4 821.9,679.1 824.3,679.7 826.7,680.1 829.2,680.3 831.6,680.0 834.0,678.8 836.5,677.8 838.9,676.5 841.3,674.8 843.8,672.5 846.2,669.7 848.7,666.9 851.1,664.4 853.5,662.3 856.0,660.5 858.4,659.5 860.8,658.7 863.3,657.8 865.7,655.7 868.1,652.6 870.6,649.9 873.0,648.3 875.4,647.4 877.9,646.8 880.3,646.8 882.7,646.7 885.2,647.0 887.6,647.7 890.0,648.2 892.5,648.2 894.9,647.5 897.3,645.9 899.8,643.7 902.2,641.4 904.6,638.7 907.1,636.3 909.5,633.8 911.9,631.0 914.4,628.0 916.8,625.3 919.2,623.2 921.7,621.7 924.1,621.3 926.5,620.9 929.0,621.2 931.4,621.6 933.8,622.4 936.3,623.7 938.7,625.6 941.1,627.3 943.6,628.5 946.0,629.5 948.4,629.7 950.9,629.2 953.3,628.9 955.7,628.7 958.2,628.4 960.6,627.4 963.0,626.2 965.5,625.4 967.9,624.1 970.3,622.1 972.8,620.2 975.2,618.5 977.6,617.0 980.1,616.1 982.5,615.7 984.9,615.8 987.4,617.3 989.8,620.5 992.2,625.4 994.7,631.8 997.1,638.8 999.5,645.6 1002.0,652.0 1004.4,657.7 1006.8,662.4 1009.3,665.2 1011.7,666.8 1014.1,667.3 1016.6,667.4 1019.0,668.0 1021.4,668.9 1023.9,669.1 1026.3,668.1 1028.7,666.4 1031.2,664.2 1033.6,662.4 1036.0,661.0 1038.5,659.6 1040.9,657.9 1043.3,655.4 1045.8,652.2 1048.2,648.7 1050.6,645.1 1053.1,641.6 1055.5,638.4 1057.9,635.6 1060.4,633.3 1062.8,631.7 1065.2,630.6 1067.7,630.2 1070.1,629.7 1072.5,629.5 1075.0,629.4 1077.4,629.7 1079.8,630.5 1082.3,631.7 1084.7,632.7 1087.1,633.4 1089.6,633.1 1092.0,632.7 1094.4,632.3 1096.9,631.8 1099.3,632.0 1101.7,632.2 1104.2,632.7 1106.6,632.9 1109.0,633.3 1111.5,633.7 1113.9,634.1 1116.3,634.4 1118.8,634.8 1121.2,635.1 1123.6,635.1" fill="none" stroke="#ff3b3b" stroke-width="1" stroke-linejoin="round"/>
<polyline points="111.3,662.1 113.7,661.8 116.2,661.9 118.6,662.1 121.0,660.6 123.5,660.0 125.9,659.6 128.3,658.3 130.8,659.5 133.2,659.8 135.6,659.1 138.1,659.3 140.5,659.5 142.9,658.3 145.4,656.9 147.8,652.6 150.2,648.8 152.7,644.4 155.1,640.6 157.5,635.7 160.0,634.5 162.4,631.8 164.8,627.3 167.3,624.3 169.7,618.8 172.1,612.6 174.6,606.9 177.0,600.9 179.4,602.0 181.9,604.1 184.3,605.7 186.7,607.6 189.2,605.4 191.6,605.4 194.0,603.5 196.5,603.2 198.9,600.4 201.3,600.7 203.8,601.7 206.2,600.0 208.6,599.7 211.1,598.2 213.5,595.9 215.9,590.8 218.4,588.2 220.8,587.2 223.2,589.6 225.7,594.6 228.1,596.9 230.5,594.0 233.0,594.0 235.4,594.1 237.8,595.0 240.3,597.5 242.7,599.5 245.1,600.0 247.6,599.7 250.0,602.0 252.4,604.9 254.9,610.7 257.3,616.0 259.7,618.8 262.2,622.6 264.6,628.1 267.0,633.2 269.5,637.6 271.9,641.5 274.3,646.2 276.8,651.6 279.2,655.1 281.6,660.6 284.1,662.2 286.5,661.8 288.9,659.5 291.4,656.4 293.8,651.3 296.2,644.7 298.7,638.2 301.1,629.1 303.5,620.1 306.0,615.9 308.4,613.3 310.8,609.6 313.3,606.5 315.7,609.8 318.1,608.2 320.6,607.4 323.0,606.1 325.4,606.0 327.9,607.8 330.3,610.7 332.7,613.3 335.2,613.7 337.6,613.0 340.0,612.7 342.5,615.3 344.9,619.9 347.3,622.5 349.8,624.0 352.2,624.9 354.6,625.5 357.1,624.2 359.5,624.4 362.0,622.2 364.4,619.2 366.8,616.8 369.3,618.2 371.7,619.1 374.1,621.4 376.6,623.5 379.0,628.8 381.4,633.9 383.9,638.1 386.3,641.5 388.7,645.2 391.2,653.8 393.6,665.9 396.0,672.6 398.5,675.3 400.9,681.3 403.3,679.6 405.8,676.6 408.2,675.7 410.6,679.3 413.1,682.2 415.5,684.4 417.9,685.0 420.4,683.1 422.8,680.1 425.2,675.0 427.7,667.9 430.1,660.7 432.5,655.9 435.0,653.7 437.4,650.8 439.8,646.7 442.3,642.8 444.7,637.5 447.1,632.2 449.6,628.4 452.0,623.4 454.4,620.7 456.9,616.7 459.3,606.1 461.7,598.6 464.2,597.2 466.6,597.7 469.0,594.2 471.5,593.3 473.9,594.3 476.3,597.3 478.8,599.0 481.2,601.7 483.6,603.7 486.1,609.6 488.5,615.0 490.9,614.0 493.4,614.4 495.8,615.9 498.2,617.3 500.7,617.2 503.1,618.8 505.5,622.9 508.0,623.7 510.4,624.6 512.8,625.6 515.3,624.2 517.7,624.2 520.1,622.5 522.6,618.1 525.0,612.7 527.4,609.2 529.9,605.8 532.3,603.3 534.7,599.7 537.2,599.5 539.6,605.2 542.0,608.6 544.5,613.8 546.9,622.0 549.3,625.4 551.8,626.4 554.2,627.3 556.6,630.8 559.1,632.5 561.5,633.8 563.9,637.4 566.4,645.0 568.8,649.8 571.2,657.5 573.7,678.1 576.1,692.2 578.5,704.8 581.0,712.2 583.4,714.9 585.8,718.3 588.3,713.7 590.7,711.9 593.1,712.8 595.6,716.8 598.0,718.0 600.4,719.9 602.9,718.9 605.3,719.8 607.7,727.8 610.2,736.3 612.6,737.2 615.0,736.6 617.5,734.6 619.9,732.4 622.3,729.0 624.8,723.8 627.2,720.3 629.6,718.6 632.1,714.2 634.5,710.0 636.9,708.2 639.4,707.7 641.8,716.6 644.2,723.0 646.7,726.3 649.1,729.0 651.5,727.3 654.0,723.9 656.4,720.7 658.8,723.0 661.3,727.1 663.7,727.2 666.1,724.1 668.6,720.4 671.0,717.8 673.4,715.3 675.9,714.7 678.3,714.0 680.7,717.3 683.2,724.5 685.6,729.9 688.0,730.8 690.5,730.4 692.9,729.5 695.3,723.0 697.8,715.5 700.2,712.1 702.6,709.9 705.1,707.9 707.5,703.2 709.9,700.9 712.4,697.4 714.8,698.2 717.2,697.0 719.7,691.5 722.1,682.9 724.5,677.1 727.0,675.1 729.4,672.7 731.8,670.6 734.3,666.0 736.7,659.7 739.1,654.2 741.6,650.2 744.0,647.3 746.4,644.4 748.9,638.8 751.3,636.8 753.7,636.0 756.2,631.2 758.6,627.0 761.0,624.8 763.5,623.0 765.9,622.7 768.3,623.4 770.8,625.6 773.2,624.2 775.6,622.5 778.1,624.2 780.5,628.5 782.9,636.4 785.4,641.0 787.8,645.6 790.2,653.5 792.7,660.1 795.1,666.3 797.5,669.2 800.0,674.6 802.4,681.6 804.8,686.3 807.3,689.1 809.7,688.6 812.1,684.5 814.6,682.7 817.0,680.3 819.4,679.1 821.9,681.7 824.3,682.4 826.7,681.7 829.2,681.0 831.6,678.7 834.0,674.2 836.5,673.5 838.9,671.5 841.3,668.0 843.8,663.4 846.2,658.4 848.7,655.6 851.1,654.8 853.5,653.9 856.0,653.4 858.4,655.5 860.8,655.2 863.3,654.1 865.7,647.4 868.1,640.3 870.6,638.9 873.0,642.0 875.4,643.9 877.9,644.4 880.3,646.8 882.7,646.5 885.2,648.2 887.6,650.5 890.0,650.0 892.5,648.4 894.9,644.8 897.3,639.2 899.8,635.1 902.2,632.0 904.6,628.0 907.1,626.6 909.5,624.1 911.9,619.8 914.4,616.0 916.8,614.5 919.2,614.7 921.7,615.9 924.1,619.6 926.5,619.5 929.0,622.1 931.4,623.4 933.8,625.5 936.3,628.9 938.7,633.5 941.1,634.1 943.6,633.3 946.0,633.5 948.4,630.2 950.9,627.6 953.3,627.4 955.7,628.0 958.2,627.2 960.6,623.3 963.0,621.7 965.5,621.8 967.9,618.9 970.3,614.4 972.8,612.4 975.2,611.9 977.6,611.0 980.1,612.4 982.5,614.0 984.9,616.1 987.4,623.4 989.8,633.3 992.2,645.0 994.7,657.5 997.1,666.8 999.5,672.7 1002.0,677.6 1004.4,680.7 1006.8,681.0 1009.3,676.5 1011.7,673.1 1014.1,669.5 1016.6,667.9 1019.0,670.4 1021.4,672.5 1023.9,670.0 1026.3,663.7 1028.7,659.6 1031.2,655.8 1033.6,654.9 1036.0,655.6 1038.5,654.1 1040.9,650.7 1043.3,645.5 1045.8,639.6 1048.2,634.4 1050.6,631.0 1053.1,627.6 1055.5,625.4 1057.9,624.3 1060.4,624.4 1062.8,625.0 1065.2,626.4 1067.7,628.5 1070.1,627.8 1072.5,628.8 1075.0,628.9 1077.4,630.7 1079.8,634.0 1082.3,636.4 1084.7,636.6 1087.1,636.1 1089.6,632.1 1092.0,631.0 1094.4,630.6 1096.9,629.8 1099.3,633.0 1101.7,633.2 1104.2,634.3 1106.6,634.0 1109.0,634.6 1111.5,635.6 1113.9,635.6 1116.3,635.6 1118.8,636.6 1121.2,636.3 1123.6,635.0" fill="none" stroke="#4444ff" stroke-width="1" stroke-linejoin="round"/>
</g><g clip-path="url(#cp2)">
<polyline points="111.3,846.4 113.7,838.3 116.2,842.6 118.6,844.6 121.0,820.5 123.5,830.9 125.9,829.9 128.3,817.9 130.8,851.1 133.2,841.7 135.6,831.2 138.1,839.7 140.5,840.0 142.9,824.0 145.4,817.8 147.8,793.1 150.2,789.9 152.7,781.9 155.1,779.3 157.5,770.5 160.0,801.7 162.4,791.8 164.8,781.3 167.3,783.2 169.7,772.5 172.1,766.6 174.6,764.0 177.0,759.9 179.4,803.1 181.9,807.5 184.3,804.8 186.7,804.6 189.2,790.0 191.6,799.0 194.0,791.2 196.5,794.6 198.9,785.8 201.3,798.5 203.8,798.7 206.2,789.2 208.6,791.8 211.1,786.0 213.5,781.4 215.9,772.5 218.4,777.4 220.8,778.3 223.2,797.4 225.7,813.0 228.1,804.9 230.5,789.6 233.0,799.0 235.4,797.3 237.8,797.1 240.3,804.3 242.7,801.9 245.1,796.3 247.6,791.6 250.0,806.0 252.4,808.3 254.9,828.4 257.3,829.0 259.7,820.5 262.2,827.6 264.6,840.7 267.0,843.4 269.5,843.7 271.9,844.3 274.3,854.4 276.8,863.4 279.2,857.1 281.6,872.6 284.1,852.7 286.5,842.6 288.9,831.9 291.4,825.1 293.8,812.7 296.2,802.9 298.7,797.5 301.1,786.0 303.5,780.7 306.0,797.5 308.4,798.5 310.8,792.0 313.3,789.9 315.7,822.2 318.1,807.3 320.6,806.5 323.0,803.1 325.4,804.1 327.9,812.0 330.3,817.6 332.7,816.4 335.2,808.0 337.6,802.5 340.0,801.6 342.5,817.7 344.9,830.7 347.3,823.8 349.8,819.5 352.2,816.0 354.6,814.0 357.1,804.5 359.5,811.2 362.0,800.1 364.4,794.5 366.8,792.4 369.3,814.4 371.7,811.4 374.1,819.3 376.6,818.6 379.0,840.7 381.4,844.0 383.9,843.3 386.3,842.0 388.7,848.0 391.2,878.1 393.6,896.8 396.0,878.9 398.5,864.8 400.9,879.4 403.3,850.7 405.8,844.8 408.2,851.1 410.6,866.6 413.1,867.3 415.5,867.5 417.9,863.7 420.4,853.0 422.8,847.1 425.2,836.0 427.7,825.0 430.1,819.5 432.5,824.0 435.0,831.2 437.4,826.7 439.8,818.8 442.3,815.6 444.7,806.8 447.1,802.6 449.6,802.4 452.0,794.8 454.4,800.1 456.9,793.1 459.3,775.2 461.7,776.6 464.2,800.1 466.6,805.2 469.0,793.5 471.5,799.6 473.9,804.7 476.3,812.8 478.8,808.6 481.2,812.1 483.6,809.3 486.1,831.0 488.5,831.8 490.9,810.7 493.4,814.4 495.8,817.7 498.2,816.9 500.7,810.2 503.1,818.0 505.5,832.3 508.0,820.3 510.4,819.8 512.8,818.8 515.3,809.0 517.7,813.1 520.1,804.9 522.6,793.9 525.0,787.3 527.4,788.7 529.9,785.2 532.3,784.0 534.7,778.0 537.2,793.6 539.6,826.9 542.0,820.3 544.5,831.0 546.9,848.2 549.3,833.6 551.8,826.3 554.2,825.2 556.6,837.1 559.1,831.4 561.5,829.8 563.9,841.7 566.4,860.9 568.8,854.7 571.2,868.8 573.7,902.9 576.1,894.4 578.5,898.1 581.0,889.1 583.4,878.7 585.8,882.9 588.3,858.4 590.7,864.6 593.1,871.8 595.6,880.5 598.0,875.5 600.4,879.4 602.9,871.7 605.3,877.6 607.7,894.2 610.2,899.4 612.6,880.3 615.0,878.6 617.5,876.0 619.9,876.3 622.3,872.9 624.8,865.1 627.2,868.8 629.6,874.2 632.1,863.0 634.5,862.3 636.9,869.3 639.4,874.0 641.8,898.8 644.2,898.8 646.7,893.1 649.1,895.3 651.5,879.0 654.0,872.9 656.4,873.1 658.8,889.0 661.3,896.0 663.7,884.2 666.1,872.2 668.6,869.8 671.0,872.7 673.4,873.3 675.9,879.9 678.3,880.8 680.7,894.3 683.2,906.3 685.6,907.2 688.0,891.6 690.5,890.4 692.9,890.5 695.3,863.5 697.8,855.0 700.2,866.5 702.6,870.0 705.1,870.7 707.5,857.3 709.9,864.9 712.4,857.9 714.8,872.7 717.2,865.4 719.7,846.6 722.1,831.8 724.5,837.1 727.0,848.2 729.4,844.8 731.8,844.7 734.3,832.9 736.7,823.7 739.1,821.3 741.6,822.3 744.0,823.3 746.4,819.8 748.9,806.9 751.3,819.9 753.7,822.4 756.2,806.6 758.6,804.3 761.0,808.2 763.5,806.6 765.9,811.1 768.3,814.6 770.8,823.6 773.2,808.4 775.6,804.6 778.1,822.1 780.5,837.3 782.9,857.7 785.4,848.7 787.8,851.8 790.2,868.9 792.7,870.3 795.1,873.8 797.5,863.1 800.0,875.4 802.4,885.5 804.8,881.3 807.3,878.2 809.7,863.3 812.1,846.3 814.6,853.7 817.0,849.4 819.4,854.1 821.9,869.9 824.3,863.3 826.7,858.0 829.2,858.1 831.6,848.9 834.0,836.7 836.5,851.4 838.9,845.0 841.3,836.1 843.8,827.9 846.2,822.2 848.7,828.5 851.1,836.4 853.5,834.5 856.0,835.6 858.4,849.9 860.8,838.1 863.3,833.4 865.7,808.5 868.1,802.1 870.6,825.2 873.0,843.7 875.4,840.7 877.9,835.7 880.3,844.2 882.7,834.3 885.2,842.5 887.6,846.3 890.0,835.6 892.5,829.5 894.9,820.1 897.3,809.9 899.8,810.0 902.2,809.6 904.6,802.7 907.1,811.4 909.5,805.2 911.9,796.6 914.4,793.6 916.8,800.7 919.2,807.0 921.7,810.8 924.1,825.9 926.5,811.4 929.0,825.5 931.4,820.5 933.8,824.5 936.3,832.7 938.7,842.2 941.1,826.2 943.6,819.2 946.0,822.9 948.4,808.4 950.9,807.0 953.3,816.6 955.7,818.7 958.2,812.0 960.6,798.8 963.0,806.6 965.5,812.3 967.9,800.3 970.3,792.4 972.8,799.4 975.2,802.2 977.6,798.8 980.1,809.9 982.5,809.5 984.9,811.6 987.4,845.8 989.8,863.4 992.2,877.1 994.7,887.2 997.1,884.1 999.5,875.9 1002.0,877.1 1004.4,873.7 1006.8,861.6 1009.3,838.5 1011.7,839.9 1014.1,836.0 1016.6,843.7 1019.0,861.6 1021.4,862.7 1023.9,841.7 1026.3,824.6 1028.7,829.2 1031.2,826.6 1033.6,837.5 1036.0,843.8 1038.5,834.1 1040.9,824.8 1043.3,815.0 1045.8,808.7 1048.2,805.8 1050.6,808.0 1053.1,804.5 1055.5,804.4 1057.9,806.2 1060.4,809.9 1062.8,810.8 1065.2,815.4 1067.7,820.0 1070.1,806.5 1072.5,815.9 1075.0,810.5 1077.4,822.3 1079.8,834.2 1082.3,831.2 1084.7,819.7 1087.1,814.3 1089.6,797.7 1092.0,811.8 1094.4,812.1 1096.9,808.2 1099.3,834.1 1101.7,821.3 1104.2,825.7 1106.6,818.4 1109.0,822.3 1111.5,824.1 1113.9,817.9 1116.3,816.6 1118.8,821.7 1121.2,814.6 1123.6,807.3" fill="none" stroke="#a848b8" stroke-width="1" stroke-linejoin="round"/>
</g><g clip-path="url(#cp3)">
<polyline points="111.3,1017.7 113.7,1010.9 116.2,1006.1 118.6,1002.7 121.0,996.6 123.5,988.3 125.9,976.5 128.3,968.4 130.8,967.6 133.2,973.3 135.6,981.9 138.1,984.8 140.5,985.9 142.9,982.5 145.4,975.0 147.8,959.1 150.2,943.8 152.7,932.1 155.1,929.2 157.5,927.7 160.0,931.2 162.4,933.9 164.8,936.7 167.3,933.2 169.7,929.3 172.1,926.6 174.6,929.4 177.0,933.8 179.4,941.2 181.9,950.0 184.3,962.3 186.7,972.1 189.2,974.4 191.6,969.5 194.0,958.1 196.5,949.9 198.9,940.7 201.3,937.8 203.8,937.0 206.2,940.7 208.6,943.6 211.1,942.2 213.5,938.0 215.9,930.5 218.4,926.4 220.8,924.4 223.2,928.9 225.7,938.0 228.1,949.7 230.5,954.6 233.0,951.1 235.4,941.8 237.8,937.4 240.3,937.3 242.7,940.7 245.1,941.7 247.6,939.1 250.0,937.0 252.4,939.2 254.9,951.6 257.3,967.3 259.7,981.4 262.2,988.5 264.6,994.8 267.0,1006.0 269.5,1020.7 271.9,1032.6 274.3,1040.4 276.8,1046.4 279.2,1052.6 281.6,1056.2 284.1,1053.1 286.5,1043.4 288.9,1022.8 291.4,997.2 293.8,969.3 296.2,948.4 298.7,935.2 301.1,929.2 303.5,927.4 306.0,928.2 308.4,931.6 310.8,935.1 313.3,935.7 315.7,936.3 318.1,937.2 320.6,940.2 323.0,937.3 325.4,933.4 327.9,930.4 330.3,935.0 332.7,943.4 335.2,948.9 337.6,947.1 340.0,939.4 342.5,936.7 344.9,943.2 347.3,955.5 349.8,965.3 352.2,968.6 354.6,968.5 357.1,964.3 359.5,958.6 362.0,950.1 364.4,945.5 366.8,941.1 369.3,943.7 371.7,947.8 374.1,958.2 376.6,965.0 379.0,975.4 381.4,988.0 383.9,1007.6 386.3,1024.3 388.7,1035.8 391.2,1043.1 393.6,1050.0 396.0,1053.1 398.5,1046.9 400.9,1035.9 403.3,1023.1 405.8,1013.1 408.2,999.8 410.6,993.9 413.1,995.1 415.5,1004.6 417.9,1009.2 420.4,1007.0 422.8,997.2 425.2,980.3 427.7,959.9 430.1,939.9 432.5,929.5 435.0,928.8 437.4,934.2 439.8,937.4 442.3,935.1 444.7,930.4 447.1,927.2 449.6,926.1 452.0,926.4 454.4,927.8 456.9,929.4 459.3,930.1 461.7,928.2 464.2,929.8 466.6,935.6 469.0,943.2 471.5,946.1 473.9,944.4 476.3,945.4 478.8,949.7 481.2,956.4 483.6,959.5 486.1,966.7 488.5,977.6 490.9,988.6 493.4,988.2 495.8,977.4 498.2,968.3 500.7,962.8 503.1,961.2 505.5,960.4 508.0,962.2 510.4,964.2 512.8,960.1 515.3,952.5 517.7,944.1 520.1,936.8 522.6,932.0 525.0,928.2 527.4,928.3 529.9,928.7 532.3,928.9 534.7,927.2 537.2,928.4 539.6,938.2 542.0,955.4 544.5,975.3 546.9,992.4 549.3,1005.9 551.8,1012.4 554.2,1009.2 556.6,1003.1 559.1,998.9 561.5,1000.2 563.9,1001.9 566.4,1009.5 568.8,1022.2 571.2,1039.6 573.7,1051.6 576.1,1058.8 578.5,1059.7 581.0,1056.8 583.4,1050.7 585.8,1043.9 588.3,1035.4 590.7,1027.9 593.1,1021.2 595.6,1024.3 598.0,1031.6 600.4,1041.9 602.9,1045.1 605.3,1046.4 607.7,1047.0 610.2,1051.7 612.6,1052.8 615.0,1048.3 617.5,1036.9 619.9,1027.4 622.3,1021.3 624.8,1016.9 627.2,1010.1 629.6,1002.4 632.1,995.1 634.5,988.7 636.9,983.5 639.4,979.9 641.8,985.4 644.2,996.5 646.7,1014.8 649.1,1026.0 651.5,1029.5 654.0,1023.4 656.4,1013.7 658.8,1010.5 661.3,1017.9 663.7,1032.7 666.1,1040.6 668.6,1034.7 671.0,1022.6 673.4,1013.1 675.9,1010.2 678.3,1010.1 680.7,1016.3 683.2,1028.4 685.6,1045.1 688.0,1054.2 690.5,1054.0 692.9,1046.4 695.3,1036.6 697.8,1024.3 700.2,1011.4 702.6,1004.7 705.1,1005.2 707.5,1004.3 709.9,997.8 712.4,985.7 714.8,982.7 717.2,985.1 719.7,989.4 722.1,979.3 724.5,962.4 727.0,951.0 729.4,954.1 731.8,965.1 734.3,967.4 736.7,959.3 739.1,944.6 741.6,934.8 744.0,932.0 746.4,932.9 748.9,932.7 751.3,931.7 753.7,933.9 756.2,937.7 758.6,938.3 761.0,934.0 763.5,930.5 765.9,931.9 768.3,939.1 770.8,950.2 773.2,957.3 775.6,958.1 778.1,951.6 780.5,955.4 782.9,975.7 785.4,1005.6 787.8,1030.0 790.2,1041.5 792.7,1049.3 795.1,1053.3 797.5,1052.1 800.0,1045.1 802.4,1041.8 804.8,1046.2 807.3,1052.7 809.7,1051.9 812.1,1041.4 814.6,1025.5 817.0,1007.8 819.4,995.7 821.9,992.2 824.3,996.9 826.7,1001.9 829.2,998.6 831.6,988.2 834.0,972.5 836.5,960.7 838.9,954.1 841.3,954.4 843.8,950.5 846.2,943.3 848.7,936.6 851.1,940.1 853.5,949.5 856.0,959.0 858.4,968.0 860.8,975.9 863.3,982.1 865.7,975.9 868.1,961.2 870.6,947.1 873.0,950.5 875.4,970.6 877.9,993.1 880.3,1006.9 882.7,1008.1 885.2,1007.7 887.6,1007.1 890.0,1008.9 892.5,1005.2 894.9,993.8 897.3,974.5 899.8,954.8 902.2,940.5 904.6,934.5 907.1,934.5 909.5,936.4 911.9,937.3 914.4,934.5 916.8,932.9 919.2,934.4 921.7,940.1 924.1,948.5 926.5,954.2 929.0,960.7 931.4,963.6 933.8,971.2 936.3,980.2 938.7,997.9 941.1,1011.1 943.6,1013.2 946.0,996.6 948.4,973.4 950.9,953.4 953.3,940.9 955.7,937.3 958.2,937.8 960.6,939.2 963.0,937.6 965.5,938.2 967.9,939.9 970.3,939.7 972.8,934.7 975.2,930.7 977.6,929.7 980.1,932.9 982.5,936.9 984.9,943.4 987.4,955.8 989.8,979.1 992.2,1011.5 994.7,1041.4 997.1,1057.6 999.5,1058.9 1002.0,1052.1 1004.4,1045.4 1006.8,1039.7 1009.3,1031.0 1011.7,1018.5 1014.1,1002.7 1016.6,992.3 1019.0,989.6 1021.4,994.4 1023.9,994.3 1026.3,981.2 1028.7,958.3 1031.2,938.9 1033.6,934.4 1036.0,942.3 1038.5,955.1 1040.9,959.5 1043.3,952.7 1045.8,939.2 1048.2,929.1 1050.6,926.3 1053.1,927.1 1055.5,927.6 1057.9,926.7 1060.4,927.0 1062.8,929.0 1065.2,933.0 1067.7,937.3 1070.1,939.0 1072.5,939.1 1075.0,935.4 1077.4,941.2 1079.8,959.0 1082.3,991.6 1084.7,1014.6 1087.1,1015.9 1089.6,992.0 1092.0,965.8 1094.4,948.2 1096.9,945.1 1099.3,950.5 1101.7,957.6 1104.2,966.2 1106.6,963.8 1109.0,960.3 1111.5,952.4 1113.9,949.8 1116.3,945.9 1118.8,942.9 1121.2,939.2 1123.6,936.5" fill="none" stroke="#ff3b3b" stroke-width="1" stroke-linejoin="round"/>
<polyline points="111.3,1010.7 113.7,1005.4 116.2,1002.2 118.6,1000.5 121.0,987.2 123.5,977.2 125.9,965.2 128.3,962.7 130.8,975.0 133.2,982.0 135.6,988.6 138.1,983.8 140.5,985.4 142.9,978.2 145.4,961.5 147.8,937.6 150.2,932.3 152.7,926.5 155.1,928.6 157.5,927.8 160.0,937.1 162.4,936.9 164.8,936.2 167.3,926.6 169.7,925.3 172.1,927.8 174.6,935.0 177.0,938.5 179.4,950.2 181.9,961.3 184.3,975.4 186.7,979.7 189.2,968.0 191.6,960.8 194.0,945.6 196.5,943.2 198.9,933.3 201.3,936.7 203.8,940.9 206.2,944.5 208.6,945.5 211.1,936.6 213.5,931.9 215.9,923.1 218.4,924.1 220.8,926.1 223.2,936.5 225.7,951.4 228.1,961.2 230.5,951.1 233.0,941.0 235.4,933.3 237.8,937.8 240.3,940.9 242.7,943.4 245.1,940.9 247.6,933.0 250.0,937.1 252.4,947.5 254.9,970.2 257.3,984.0 259.7,989.9 262.2,991.6 264.6,1003.0 267.0,1023.3 269.5,1035.9 271.9,1038.7 274.3,1046.6 276.8,1053.9 279.2,1057.3 281.6,1057.3 284.1,1044.7 286.5,1028.3 288.9,995.2 291.4,968.1 293.8,944.7 296.2,932.3 298.7,928.5 301.1,926.7 303.5,927.1 306.0,930.9 308.4,936.9 310.8,937.5 313.3,932.8 315.7,938.7 318.1,940.2 320.6,941.6 323.0,930.1 325.4,928.6 327.9,932.5 330.3,943.9 332.7,953.9 335.2,949.0 337.6,938.4 340.0,930.8 342.5,940.8 344.9,958.1 347.3,967.7 349.8,970.2 352.2,967.9 354.6,967.4 357.1,957.6 359.5,950.9 362.0,941.8 364.4,943.8 366.8,937.8 369.3,949.6 371.7,955.9 374.1,969.2 376.6,969.9 379.0,987.1 381.4,1006.9 383.9,1028.9 386.3,1037.0 388.7,1041.6 391.2,1050.7 393.6,1057.8 396.0,1050.9 398.5,1032.0 400.9,1024.9 403.3,1012.4 405.8,1002.0 408.2,985.0 410.6,994.8 413.1,1005.4 415.5,1013.6 417.9,1008.5 420.4,998.9 422.8,984.2 425.2,957.7 427.7,937.9 430.1,923.9 432.5,926.8 435.0,935.7 437.4,940.1 439.8,936.3 442.3,929.0 444.7,925.8 447.1,926.7 449.6,925.7 452.0,926.7 454.4,931.0 456.9,930.5 459.3,928.7 461.7,925.4 464.2,935.3 466.6,946.2 469.0,948.0 471.5,944.0 473.9,941.3 476.3,951.0 478.8,956.7 481.2,961.5 483.6,960.3 486.1,978.2 488.5,994.3 490.9,993.3 493.4,976.9 495.8,962.1 498.2,965.8 500.7,960.4 503.1,957.3 505.5,963.5 508.0,965.8 510.4,963.2 512.8,951.4 515.3,943.0 517.7,937.9 520.1,929.5 522.6,928.6 525.0,926.3 527.4,929.8 529.9,929.8 532.3,927.1 534.7,924.6 537.2,933.6 539.6,956.4 542.0,976.2 544.5,993.2 546.9,1007.9 549.3,1016.5 551.8,1012.9 554.2,998.2 556.6,998.3 559.1,1000.3 561.5,1002.0 563.9,1003.5 566.4,1023.1 568.8,1039.9 571.2,1055.8 573.7,1059.0 576.1,1061.6 578.5,1058.4 581.0,1050.5 583.4,1043.0 585.8,1038.0 588.3,1025.0 590.7,1020.5 593.1,1018.1 595.6,1034.1 598.0,1042.7 600.4,1048.8 602.9,1043.9 605.3,1046.5 607.7,1050.7 610.2,1057.9 612.6,1050.0 615.0,1037.0 617.5,1023.8 619.9,1021.6 622.3,1018.6 624.8,1010.4 627.2,1001.2 629.6,995.6 632.1,988.6 634.5,981.9 636.9,979.9 639.4,977.8 641.8,998.6 644.2,1013.0 646.7,1032.7 649.1,1032.3 651.5,1023.6 654.0,1014.4 656.4,1003.0 658.8,1014.3 661.3,1036.5 663.7,1047.4 666.1,1037.9 668.6,1018.7 671.0,1011.3 673.4,1009.2 675.9,1010.0 678.3,1011.3 680.7,1027.7 683.2,1046.2 685.6,1061.3 688.0,1055.2 690.5,1045.6 692.9,1038.5 695.3,1025.7 697.8,1008.9 700.2,999.7 702.6,1005.4 705.1,1010.3 707.5,997.3 709.9,985.7 712.4,974.1 714.8,988.4 717.2,992.9 719.7,987.0 722.1,958.1 724.5,942.1 727.0,952.9 729.4,967.5 731.8,974.9 734.3,959.7 736.7,943.4 739.1,930.7 741.6,930.3 744.0,935.0 746.4,933.4 748.9,929.6 751.3,932.2 753.7,939.9 756.2,941.1 758.6,934.1 761.0,926.9 763.5,930.4 765.9,938.4 768.3,948.4 770.8,964.0 773.2,959.5 775.6,950.8 778.1,944.6 780.5,970.7 782.9,1011.8 785.4,1034.2 787.8,1044.1 790.2,1046.2 792.7,1057.5 795.1,1056.2 797.5,1042.6 800.0,1036.5 802.4,1046.1 804.8,1055.9 807.3,1056.1 809.7,1043.6 812.1,1024.5 814.6,1008.3 817.0,990.7 819.4,988.2 821.9,997.6 824.3,1004.9 826.7,1003.1 829.2,987.9 831.6,973.8 834.0,955.8 836.5,952.5 838.9,953.9 841.3,956.9 843.8,940.6 846.2,932.4 848.7,936.8 851.1,951.2 853.5,960.4 856.0,965.5 858.4,978.2 860.8,984.1 863.3,984.1 865.7,959.5 868.1,940.1 870.6,941.8 873.0,969.7 875.4,1000.2 877.9,1009.5 880.3,1010.9 882.7,1004.0 885.2,1008.4 887.6,1009.0 890.0,1009.3 892.5,997.3 894.9,974.7 897.3,951.5 899.8,938.1 902.2,931.9 904.6,933.3 907.1,938.2 909.5,937.5 911.9,936.0 914.4,930.0 916.8,932.7 919.2,940.6 921.7,946.9 924.1,958.2 926.5,957.6 929.0,966.3 931.4,966.9 933.8,980.4 936.3,993.4 938.7,1019.9 941.1,1020.0 943.6,999.8 946.0,970.0 948.4,950.4 950.9,939.8 953.3,932.6 955.7,939.7 958.2,941.0 960.6,936.9 963.0,935.0 965.5,942.8 967.9,941.8 970.3,934.6 972.8,927.6 975.2,930.0 977.6,931.6 980.1,937.1 982.5,941.9 984.9,951.1 987.4,974.5 989.8,1011.7 992.2,1048.1 994.7,1064.5 997.1,1060.1 999.5,1052.1 1002.0,1044.0 1004.4,1040.2 1006.8,1034.9 1009.3,1017.9 1011.7,1002.7 1014.1,987.6 1016.6,986.6 1019.0,994.7 1021.4,1001.8 1023.9,986.4 1026.3,955.4 1028.7,933.1 1031.2,928.2 1033.6,941.9 1036.0,956.9 1038.5,966.4 1040.9,955.3 1043.3,936.5 1045.8,925.9 1048.2,924.9 1050.6,928.2 1053.1,928.1 1055.5,926.5 1057.9,925.5 1060.4,928.9 1062.8,932.7 1065.2,937.3 1067.7,942.0 1070.1,937.6 1072.5,937.8 1075.0,930.7 1077.4,955.3 1079.8,991.1 1082.3,1028.4 1084.7,1024.2 1087.1,995.1 1089.6,956.6 1092.0,945.8 1094.4,942.2 1096.9,947.2 1099.3,962.1 1101.7,963.6 1104.2,972.8 1106.6,955.0 1109.0,953.1 1111.5,949.1 1113.9,947.2 1116.3,941.5 1118.8,940.2 1121.2,936.0 1123.6,933.1" fill="none" stroke="#4444ff" stroke-width="1" stroke-linejoin="round"/>
</g>
<ellipse cx="776.8" cy="627" rx="5.2" ry="11" fill="none" stroke="#f00000" stroke-width="2.2" transform="rotate(-8 777 627)"/>
<path d="M773 616L776.5 612.5" stroke="#f00000" stroke-width="2.2" fill="none"/>
<ellipse cx="983.8" cy="618" rx="4.8" ry="9.8" fill="none" stroke="#f00000" stroke-width="2.2"/>
<path d="M980 609.5L983 606.5" stroke="#f00000" stroke-width="2.2" fill="none"/>
<ellipse cx="828" cy="681.4" rx="6.8" ry="15.8" fill="none" stroke="#10e010" stroke-width="2.2" transform="rotate(6 827.5 681)"/>
<path d="M821 683L825.5 679" stroke="#10e010" stroke-width="2.2" fill="none"/>
<ellipse cx="1027.3" cy="677" rx="6.2" ry="10.8" fill="none" stroke="#10e010" stroke-width="2.2" transform="rotate(-14 1026.5 676)"/>
<path d="M1020 661L1020.5 670" stroke="#10e010" stroke-width="2.2" fill="none"/>
<rect x="54" y="147" width="55.5" height="952" fill="#fff"/>
<rect x="1246.5" y="147" width="55.5" height="952" fill="#fff"/>
<rect x="54" y="1075.5" width="1248" height="24.5" fill="#fff"/>
<path d="M109.5 147V1076M1246.5 147V1076" stroke="#4a4a4a" stroke-width="1" fill="none" shape-rendering="crispEdges"/>
<path d="M54 580.5H1302M54 747.5H1302M54 913.5H1302M109 1075.5H1247" stroke="#4a4a4a" stroke-width="1" fill="none" shape-rendering="crispEdges"/>
<text x="102.5" y="562.8" font-size="10.7" text-anchor="end" fill="#3b4750">112.000</text>
<text x="1253.3" y="562.8" font-size="10.7" fill="#3b4750">112.000</text>
<text x="102.5" y="523.8" font-size="10.7" text-anchor="end" fill="#3b4750">116.000</text>
<text x="1253.3" y="523.8" font-size="10.7" fill="#3b4750">116.000</text>
<text x="102.5" y="484.8" font-size="10.7" text-anchor="end" fill="#3b4750">120.000</text>
<text x="1253.3" y="484.8" font-size="10.7" fill="#3b4750">120.000</text>
<text x="102.5" y="445.8" font-size="10.7" text-anchor="end" fill="#3b4750">124.000</text>
<text x="1253.3" y="445.8" font-size="10.7" fill="#3b4750">124.000</text>
<text x="102.5" y="406.8" font-size="10.7" text-anchor="end" fill="#3b4750">128.000</text>
<text x="1253.3" y="406.8" font-size="10.7" fill="#3b4750">128.000</text>
<text x="102.5" y="367.8" font-size="10.7" text-anchor="end" fill="#3b4750">132.000</text>
<text x="1253.3" y="367.8" font-size="10.7" fill="#3b4750">132.000</text>
<text x="102.5" y="327.8" font-size="10.7" text-anchor="end" fill="#3b4750">136.000</text>
<text x="1253.3" y="327.8" font-size="10.7" fill="#3b4750">136.000</text>
<text x="102.5" y="288.8" font-size="10.7" text-anchor="end" fill="#3b4750">140.000</text>
<text x="1253.3" y="288.8" font-size="10.7" fill="#3b4750">140.000</text>
<text x="102.5" y="249.8" font-size="10.7" text-anchor="end" fill="#3b4750">144.000</text>
<text x="1253.3" y="249.8" font-size="10.7" fill="#3b4750">144.000</text>
<text x="102.5" y="210.8" font-size="10.7" text-anchor="end" fill="#3b4750">148.000</text>
<text x="1253.3" y="210.8" font-size="10.7" fill="#3b4750">148.000</text>
<text x="102.5" y="171.8" font-size="10.7" text-anchor="end" fill="#3b4750">152.000</text>
<text x="1253.3" y="171.8" font-size="10.7" fill="#3b4750">152.000</text>
<text x="102.5" y="730.8" font-size="10.7" text-anchor="end" fill="#3b4750">-2.0000</text>
<text x="1253.3" y="730.8" font-size="10.7" fill="#3b4750">-2.0000</text>
<text x="102.5" y="699.8" font-size="10.7" text-anchor="end" fill="#3b4750">-1.0000</text>
<text x="1253.3" y="699.8" font-size="10.7" fill="#3b4750">-1.0000</text>
<text x="102.5" y="667.8" font-size="10.7" text-anchor="end" fill="#3b4750">0.0000</text>
<text x="1253.3" y="667.8" font-size="10.7" fill="#3b4750">0.0000</text>
<text x="102.5" y="636.8" font-size="10.7" text-anchor="end" fill="#3b4750">1.0000</text>
<text x="1253.3" y="636.8" font-size="10.7" fill="#3b4750">1.0000</text>
<text x="102.5" y="605.8" font-size="10.7" text-anchor="end" fill="#3b4750">2.0000</text>
<text x="1253.3" y="605.8" font-size="10.7" fill="#3b4750">2.0000</text>
<text x="102.5" y="875.8" font-size="10.7" text-anchor="end" fill="#3b4750">40.0000</text>
<text x="1253.3" y="875.8" font-size="10.7" fill="#3b4750">40.0000</text>
<text x="102.5" y="827.8" font-size="10.7" text-anchor="end" fill="#3b4750">60.0000</text>
<text x="1253.3" y="827.8" font-size="10.7" fill="#3b4750">60.0000</text>
<text x="102.5" y="778.8" font-size="10.7" text-anchor="end" fill="#3b4750">80.0000</text>
<text x="1253.3" y="778.8" font-size="10.7" fill="#3b4750">80.0000</text>
<text x="102.5" y="1072.8" font-size="10.7" text-anchor="end" fill="#3b4750">0.0000</text>
<text x="1253.3" y="1072.8" font-size="10.7" fill="#3b4750">0.0000</text>
<text x="102.5" y="1042.8" font-size="10.7" text-anchor="end" fill="#3b4750">20.0000</text>
<text x="1253.3" y="1042.8" font-size="10.7" fill="#3b4750">20.0000</text>
<text x="102.5" y="1013.8" font-size="10.7" text-anchor="end" fill="#3b4750">40.0000</text>
<text x="1253.3" y="1013.8" font-size="10.7" fill="#3b4750">40.0000</text>
<text x="102.5" y="983.8" font-size="10.7" text-anchor="end" fill="#3b4750">60.0000</text>
<text x="1253.3" y="983.8" font-size="10.7" fill="#3b4750">60.0000</text>
<text x="102.5" y="954.8" font-size="10.7" text-anchor="end" fill="#3b4750">80.0000</text>
<text x="1253.3" y="954.8" font-size="10.7" fill="#3b4750">80.0000</text>
<text x="102.5" y="924.8" font-size="10.7" text-anchor="end" fill="#3b4750">100.0000</text>
<text x="1253.3" y="924.8" font-size="10.7" fill="#3b4750">100.0000</text>
<path d="M105.5 558.5H109M1247 558.5H1250.5 M105.5 519.5H109M1247 519.5H1250.5 M105.5 480.5H109M1247 480.5H1250.5 M105.5 441.5H109M1247 441.5H1250.5 M105.5 402.5H109M1247 402.5H1250.5 M105.5 363.5H109M1247 363.5H1250.5 M105.5 323.5H109M1247 323.5H1250.5 M105.5 284.5H109M1247 284.5H1250.5 M105.5 245.5H109M1247 245.5H1250.5 M105.5 206.5H109M1247 206.5H1250.5 M105.5 167.5H109M1247 167.5H1250.5 M105.5 726.5H109M1247 726.5H1250.5 M105.5 695.5H109M1247 695.5H1250.5 M105.5 663.5H109M1247 663.5H1250.5 M105.5 632.5H109M1247 632.5H1250.5 M105.5 601.5H109M1247 601.5H1250.5 M105.5 871.5H109M1247 871.5H1250.5 M105.5 823.5H109M1247 823.5H1250.5 M105.5 774.5H109M1247 774.5H1250.5 M105.5 1068.5H109M1247 1068.5H1250.5 M105.5 1038.5H109M1247 1038.5H1250.5 M105.5 1009.5H109M1247 1009.5H1250.5 M105.5 979.5H109M1247 979.5H1250.5 M105.5 950.5H109M1247 950.5H1250.5 M105.5 920.5H109M1247 920.5H1250.5 M130.5 1076V1079.5 M237.5 1076V1079.5 M343.5 1076V1079.5 M450.5 1076V1079.5 M555.5 1076V1079.5 M662.5 1076V1079.5 M764.5 1076V1079.5 M868.5 1076V1079.5 M977.5 1076V1079.5 M1084.5 1076V1079.5 M1189.5 1076V1079.5" stroke="#4a4a4a" stroke-width="1.2" fill="none"/>
<text x="130.4" y="1093" font-size="11" text-anchor="middle" fill="#3b4750">Mar</text>
<text x="237.3" y="1093" font-size="11" text-anchor="middle" fill="#3b4750">May</text>
<text x="343.4" y="1093" font-size="11" text-anchor="middle" fill="#3b4750">Jul</text>
<text x="450.4" y="1093" font-size="11" text-anchor="middle" fill="#3b4750">Sep</text>
<text x="555.8" y="1093" font-size="11" text-anchor="middle" fill="#3b4750">Nov</text>
<text x="662.4" y="1093" font-size="11" text-anchor="middle" fill="#3b4750" font-weight="bold">2023</text>
<text x="764.4" y="1093" font-size="11" text-anchor="middle" fill="#3b4750">Mar</text>
<text x="868.6" y="1093" font-size="11" text-anchor="middle" fill="#3b4750">May</text>
<text x="977.4" y="1093" font-size="11" text-anchor="middle" fill="#3b4750">Jul</text>
<text x="1084.4" y="1093" font-size="11" text-anchor="middle" fill="#3b4750">Sep</text>
<text x="1189.4" y="1093" font-size="11" text-anchor="middle" fill="#3b4750">Nov</text>
<rect x="60" y="187" width="49.5" height="17" fill="#e0609f"/>
<path d="M106.5 195.5H109.5" stroke="#fff" stroke-width="1.2"/>
<text x="102.7" y="199.1" font-size="10.7" font-weight="bold" text-anchor="end" fill="#fff">149.100</text>
<rect x="1246.5" y="187" width="49.7" height="17" fill="#e0609f"/>
<path d="M1247 195.5H1250.5" stroke="#fff" stroke-width="1.2"/>
<text x="1253.3" y="199.1" font-size="10.7" font-weight="bold" fill="#fff">149.100</text>
</svg>
<svg class="a" style="left:115.5px;top:158px" width="36" height="15" viewBox="0 0 36 15"><g fill="none" stroke="#444" stroke-width="1.1"><circle cx="7" cy="7.3" r="6"/><path d="M3.8 6L7 9.3L10.2 6"/><rect x="21" y="1.3" width="12.5" height="12" rx="1.5"/><path d="M21 7.3H33.5"/></g></svg>
<div class="a" style="left:155.5px;top:157px;font-size:15.4px;color:#4a4a4a;line-height:18px;letter-spacing:0">USD/JPY, 1D</div>
<div class="car" style="left:250.5px;top:164px"></div>
<div class="a" style="left:274px;top:157px;font-size:14.5px;color:#444;line-height:18px">O</div>
<div class="a" style="left:288.2px;top:157px;font-size:14.6px;font-weight:bold;color:#1fc98e;line-height:18px;letter-spacing:0">148.819</div>
<div class="a" style="left:352px;top:157px;font-size:14.5px;color:#444;line-height:18px">H</div>
<div class="a" style="left:365.4px;top:157px;font-size:14.6px;font-weight:bold;color:#1fc98e;line-height:18px;letter-spacing:0">149.182</div>
<div class="a" style="left:430.5px;top:157px;font-size:14.5px;color:#444;line-height:18px">L</div>
<div class="a" style="left:439.2px;top:157px;font-size:14.6px;font-weight:bold;color:#1fc98e;line-height:18px;letter-spacing:0">148.699</div>
<div class="a" style="left:503.5px;top:157px;font-size:14.5px;color:#444;line-height:18px">C</div>
<div class="a" style="left:515px;top:157px;font-size:14.6px;font-weight:bold;color:#1fc98e;line-height:18px;letter-spacing:0">149.100</div>
<div class="lg" style="top:179.0px">EMA (21, close, 0)</div>
<div class="car" style="left:213.6px;top:184.8px"></div>
<div class="bt" style="left:231.1px;top:179.5px"><svg width="13.7" height="13.6" viewBox="0 0 14 14"><path d="M1.8 7C4 3.2 10 3.2 12.2 7C10 10.8 4 10.8 1.8 7Z" fill="none" stroke="#fff" stroke-width="1.4"/><circle cx="7" cy="7" r="1.8" fill="#fff"/></svg></div><div class="bt" style="left:248.2px;top:179.5px"><svg width="13.7" height="13.6" viewBox="0 0 14 14"><rect x="6" y="1.6" width="2" height="10.8" fill="#fff" transform="rotate(0 7 7)"/><rect x="6" y="1.6" width="2" height="10.8" fill="#fff" transform="rotate(45 7 7)"/><rect x="6" y="1.6" width="2" height="10.8" fill="#fff" transform="rotate(90 7 7)"/><rect x="6" y="1.6" width="2" height="10.8" fill="#fff" transform="rotate(135 7 7)"/><circle cx="7" cy="7" r="3.7" fill="#fff"/><circle cx="7" cy="7" r="1.7" fill="#c9cbcc"/></svg></div><div class="bt" style="left:265.3px;top:179.5px"><svg width="13.7" height="13.6" viewBox="0 0 14 14"><path d="M2.5 2.5L11.5 11.5M11.5 2.5L2.5 11.5" stroke="#fff" stroke-width="1.6"/></svg></div>
<div class="val" style="left:288.3px;top:179.0px;color:#a9c5f2">147.3738</div>
<div class="lg" style="top:199.9px">MA (50, close, 0)</div>
<div class="car" style="left:206.5px;top:205.7px"></div>
<div class="bt" style="left:224.2px;top:200.4px"><svg width="13.7" height="13.6" viewBox="0 0 14 14"><path d="M1.8 7C4 3.2 10 3.2 12.2 7C10 10.8 4 10.8 1.8 7Z" fill="none" stroke="#fff" stroke-width="1.4"/><circle cx="7" cy="7" r="1.8" fill="#fff"/></svg></div><div class="bt" style="left:241.3px;top:200.4px"><svg width="13.7" height="13.6" viewBox="0 0 14 14"><rect x="6" y="1.6" width="2" height="10.8" fill="#fff" transform="rotate(0 7 7)"/><rect x="6" y="1.6" width="2" height="10.8" fill="#fff" transform="rotate(45 7 7)"/><rect x="6" y="1.6" width="2" height="10.8" fill="#fff" transform="rotate(90 7 7)"/><rect x="6" y="1.6" width="2" height="10.8" fill="#fff" transform="rotate(135 7 7)"/><circle cx="7" cy="7" r="3.7" fill="#fff"/><circle cx="7" cy="7" r="1.7" fill="#c9cbcc"/></svg></div><div class="bt" style="left:258.4px;top:200.4px"><svg width="13.7" height="13.6" viewBox="0 0 14 14"><path d="M2.5 2.5L11.5 11.5M11.5 2.5L2.5 11.5" stroke="#fff" stroke-width="1.6"/></svg></div>
<div class="val" style="left:281.3px;top:199.9px;color:#00ea00">145.0979</div>
<div class="lg" style="top:219.8px">MA (100, close, 0)</div>
<div class="car" style="left:213.6px;top:225.6px"></div>
<div class="bt" style="left:231.1px;top:220.3px"><svg width="13.7" height="13.6" viewBox="0 0 14 14"><path d="M1.8 7C4 3.2 10 3.2 12.2 7C10 10.8 4 10.8 1.8 7Z" fill="none" stroke="#fff" stroke-width="1.4"/><circle cx="7" cy="7" r="1.8" fill="#fff"/></svg></div><div class="bt" style="left:248.2px;top:220.3px"><svg width="13.7" height="13.6" viewBox="0 0 14 14"><rect x="6" y="1.6" width="2" height="10.8" fill="#fff" transform="rotate(0 7 7)"/><rect x="6" y="1.6" width="2" height="10.8" fill="#fff" transform="rotate(45 7 7)"/><rect x="6" y="1.6" width="2" height="10.8" fill="#fff" transform="rotate(90 7 7)"/><rect x="6" y="1.6" width="2" height="10.8" fill="#fff" transform="rotate(135 7 7)"/><circle cx="7" cy="7" r="3.7" fill="#fff"/><circle cx="7" cy="7" r="1.7" fill="#c9cbcc"/></svg></div><div class="bt" style="left:265.3px;top:220.3px"><svg width="13.7" height="13.6" viewBox="0 0 14 14"><path d="M2.5 2.5L11.5 11.5M11.5 2.5L2.5 11.5" stroke="#fff" stroke-width="1.6"/></svg></div>
<div class="val" style="left:288.3px;top:219.8px;color:#4a1cf0">142.6589</div>
<div class="lg" style="top:240.7px">MA (200, close, 0)</div>
<div class="car" style="left:213.6px;top:246.5px"></div>
<div class="bt" style="left:231.1px;top:241.2px"><svg width="13.7" height="13.6" viewBox="0 0 14 14"><path d="M1.8 7C4 3.2 10 3.2 12.2 7C10 10.8 4 10.8 1.8 7Z" fill="none" stroke="#fff" stroke-width="1.4"/><circle cx="7" cy="7" r="1.8" fill="#fff"/></svg></div><div class="bt" style="left:248.2px;top:241.2px"><svg width="13.7" height="13.6" viewBox="0 0 14 14"><rect x="6" y="1.6" width="2" height="10.8" fill="#fff" transform="rotate(0 7 7)"/><rect x="6" y="1.6" width="2" height="10.8" fill="#fff" transform="rotate(45 7 7)"/><rect x="6" y="1.6" width="2" height="10.8" fill="#fff" transform="rotate(90 7 7)"/><rect x="6" y="1.6" width="2" height="10.8" fill="#fff" transform="rotate(135 7 7)"/><circle cx="7" cy="7" r="3.7" fill="#fff"/><circle cx="7" cy="7" r="1.7" fill="#c9cbcc"/></svg></div><div class="bt" style="left:265.3px;top:241.2px"><svg width="13.7" height="13.6" viewBox="0 0 14 14"><path d="M2.5 2.5L11.5 11.5M11.5 2.5L2.5 11.5" stroke="#fff" stroke-width="1.6"/></svg></div>
<div class="val" style="left:288.3px;top:240.7px;color:#ff2020">137.7181</div>
<div class="lg" style="top:260.7px">BB (20, 2)</div>
<div class="car" style="left:172px;top:266.5px"></div>
<div class="bt" style="left:189.3px;top:261.2px;background:#29abe2"><svg width="13.7" height="13.6" viewBox="0 0 14 14"><path d="M1.8 7C4 3.2 10 3.2 12.2 7C10 10.8 4 10.8 1.8 7Z" fill="none" stroke="#fff" stroke-width="1.4"/><circle cx="7" cy="7" r="1.8" fill="#fff"/></svg></div><div class="bt" style="left:206.4px;top:261.2px"><svg width="13.7" height="13.6" viewBox="0 0 14 14"><rect x="6" y="1.6" width="2" height="10.8" fill="#fff" transform="rotate(0 7 7)"/><rect x="6" y="1.6" width="2" height="10.8" fill="#fff" transform="rotate(45 7 7)"/><rect x="6" y="1.6" width="2" height="10.8" fill="#fff" transform="rotate(90 7 7)"/><rect x="6" y="1.6" width="2" height="10.8" fill="#fff" transform="rotate(135 7 7)"/><circle cx="7" cy="7" r="3.7" fill="#fff"/><circle cx="7" cy="7" r="1.7" fill="#c9cbcc"/></svg></div><div class="bt" style="left:223.5px;top:261.2px"><svg width="13.7" height="13.6" viewBox="0 0 14 14"><path d="M2.5 2.5L11.5 11.5M11.5 2.5L2.5 11.5" stroke="#fff" stroke-width="1.6"/></svg></div>
<div class="lg" style="top:588.7px;left:116.4px">MACD (12, 26, close, 9)</div>
<div class="car" style="left:242px;top:594.5px"></div>
<div class="bt" style="left:260.5px;top:589.2px"><svg width="13.7" height="13.6" viewBox="0 0 14 14"><path d="M1.8 7C4 3.2 10 3.2 12.2 7C10 10.8 4 10.8 1.8 7Z" fill="none" stroke="#fff" stroke-width="1.4"/><circle cx="7" cy="7" r="1.8" fill="#fff"/></svg></div><div class="bt" style="left:277.6px;top:589.2px"><svg width="13.7" height="13.6" viewBox="0 0 14 14"><rect x="6" y="1.6" width="2" height="10.8" fill="#fff" transform="rotate(0 7 7)"/><rect x="6" y="1.6" width="2" height="10.8" fill="#fff" transform="rotate(45 7 7)"/><rect x="6" y="1.6" width="2" height="10.8" fill="#fff" transform="rotate(90 7 7)"/><rect x="6" y="1.6" width="2" height="10.8" fill="#fff" transform="rotate(135 7 7)"/><circle cx="7" cy="7" r="3.7" fill="#fff"/><circle cx="7" cy="7" r="1.7" fill="#c9cbcc"/></svg></div><div class="bt" style="left:294.7px;top:589.2px"><svg width="13.7" height="13.6" viewBox="0 0 14 14"><path d="M2.5 2.5L11.5 11.5M11.5 2.5L2.5 11.5" stroke="#fff" stroke-width="1.6"/></svg></div>
<div class="val" style="left:316px;top:588.7px;color:#ff2020">0.0191</div>
<div class="val" style="left:363px;top:588.7px;color:#2a2ae8">0.9450</div>
<div class="val" style="left:410px;top:588.7px;color:#ff2020">0.9260</div>
<div class="lg" style="top:756.2px;left:116.4px">RSI (14)</div>
<div class="car" style="left:162.6px;top:762.0px"></div>
<div class="bt" style="left:178.9px;top:756.7px"><svg width="13.7" height="13.6" viewBox="0 0 14 14"><path d="M1.8 7C4 3.2 10 3.2 12.2 7C10 10.8 4 10.8 1.8 7Z" fill="none" stroke="#fff" stroke-width="1.4"/><circle cx="7" cy="7" r="1.8" fill="#fff"/></svg></div><div class="bt" style="left:196.0px;top:756.7px"><svg width="13.7" height="13.6" viewBox="0 0 14 14"><rect x="6" y="1.6" width="2" height="10.8" fill="#fff" transform="rotate(0 7 7)"/><rect x="6" y="1.6" width="2" height="10.8" fill="#fff" transform="rotate(45 7 7)"/><rect x="6" y="1.6" width="2" height="10.8" fill="#fff" transform="rotate(90 7 7)"/><rect x="6" y="1.6" width="2" height="10.8" fill="#fff" transform="rotate(135 7 7)"/><circle cx="7" cy="7" r="3.7" fill="#fff"/><circle cx="7" cy="7" r="1.7" fill="#c9cbcc"/></svg></div><div class="bt" style="left:213.1px;top:756.7px"><svg width="13.7" height="13.6" viewBox="0 0 14 14"><path d="M2.5 2.5L11.5 11.5M11.5 2.5L2.5 11.5" stroke="#fff" stroke-width="1.6"/></svg></div>
<div class="val" style="left:236px;top:756.2px;color:#a020b0">66.4790</div>
<div class="lg" style="top:922.2px;left:116.4px">Stoch (14, 3, 3)</div>
<div class="car" style="left:199.5px;top:928.0px"></div>
<div class="bt" style="left:215.0px;top:922.7px"><svg width="13.7" height="13.6" viewBox="0 0 14 14"><path d="M1.8 7C4 3.2 10 3.2 12.2 7C10 10.8 4 10.8 1.8 7Z" fill="none" stroke="#fff" stroke-width="1.4"/><circle cx="7" cy="7" r="1.8" fill="#fff"/></svg></div><div class="bt" style="left:232.1px;top:922.7px"><svg width="13.7" height="13.6" viewBox="0 0 14 14"><rect x="6" y="1.6" width="2" height="10.8" fill="#fff" transform="rotate(0 7 7)"/><rect x="6" y="1.6" width="2" height="10.8" fill="#fff" transform="rotate(45 7 7)"/><rect x="6" y="1.6" width="2" height="10.8" fill="#fff" transform="rotate(90 7 7)"/><rect x="6" y="1.6" width="2" height="10.8" fill="#fff" transform="rotate(135 7 7)"/><circle cx="7" cy="7" r="3.7" fill="#fff"/><circle cx="7" cy="7" r="1.7" fill="#c9cbcc"/></svg></div><div class="bt" style="left:249.2px;top:922.7px"><svg width="13.7" height="13.6" viewBox="0 0 14 14"><path d="M2.5 2.5L11.5 11.5M11.5 2.5L2.5 11.5" stroke="#fff" stroke-width="1.6"/></svg></div>
<div class="val" style="left:272.5px;top:922.2px;color:#2a2ae8">96.3163</div>
<div class="val" style="left:326px;top:922.2px;color:#ff2020">90.1882</div>
<svg class="a" style="left:13.9px;top:140.0px" width="18" height="18" viewBox="0 0 18 18"><g transform="translate(9 9) scale(0.92) translate(-9 -9)" fill="none" stroke="#3a4450" stroke-width="1.05" stroke-linecap="round" stroke-linejoin="round"><path d="M4.8 13.2L14.3 3.7"/><rect x="2.5" y="12.8" width="2.6" height="2.6"/><rect x="14" y="1.8" width="2.6" height="2.6"/></g></svg>
<svg class="a" style="left:13.9px;top:166.5px" width="18" height="18" viewBox="0 0 18 18"><g transform="translate(9 9) scale(0.92) translate(-9 -9)" fill="none" stroke="#3a4450" stroke-width="1.05" stroke-linecap="round" stroke-linejoin="round"><path d="M4.5 7.5L10.5 2M4.3 14.2L14 5.5M11.5 14L16.5 9.2"/><rect x="2.5" y="6.8" width="2.3" height="2.3"/><rect x="2.3" y="13.8" width="2.3" height="2.3"/><rect x="9.3" y="13.8" width="2.3" height="2.3"/></g></svg>
<svg class="a" style="left:13.9px;top:192.0px" width="18" height="18" viewBox="0 0 18 18"><g transform="translate(9 9) scale(0.92) translate(-9 -9)" fill="none" stroke="#3a4450" stroke-width="1.05" stroke-linecap="round" stroke-linejoin="round"><path d="M2.5 15.5L9.5 8.8C12.5 9 13.8 11.5 12.3 13.8C11 15.3 8.5 15.5 2.5 15.5Z" stroke="#6d7680"/><path d="M12.8 8.8C10.8 8 11.3 5.3 13.3 6.2M13.3 8.3L18 4" stroke="#6d7680"/></g></svg>
<div class="a" style="left:17.2px;top:216.5px;font-family:'Liberation Serif',serif;font-size:18px;color:#767f88;line-height:20px">T</div>
<svg class="a" style="left:13.9px;top:244.0px" width="18" height="18" viewBox="0 0 18 18"><g transform="translate(9 9) scale(0.92) translate(-9 -9)" fill="none" stroke="#3a4450" stroke-width="1.05" stroke-linecap="round" stroke-linejoin="round"><path d="M4.6 14.2L6.3 3.3L16.4 12.3L14.7 3.6L4.6 14.2"/><circle cx="6.3" cy="2.8" r="1.3" fill="#fff"/><circle cx="14.7" cy="3.1" r="1.3" fill="#fff"/><circle cx="16.6" cy="12.5" r="1.3" fill="#fff"/><rect x="3.3" y="13" width="2.5" height="2.5" fill="#fff"/><rect x="8.6" y="6.8" width="2.3" height="2.3" fill="#fff"/></g></svg>
<svg class="a" style="left:13.9px;top:270.0px" width="18" height="18" viewBox="0 0 18 18"><g transform="translate(9 9) scale(0.92) translate(-9 -9)" fill="none" stroke="#3a4450" stroke-width="1.05" stroke-linecap="round" stroke-linejoin="round"><path d="M5 3H16M5 15H16M5 9H14M9.8 4.5V13.5M8.2 6L9.8 4.3L11.4 6M8.2 12L9.8 13.7L11.4 12"/><circle cx="3.5" cy="3" r="1.3"/><circle cx="3.5" cy="9" r="1.3"/><circle cx="3.5" cy="15" r="1.3"/><circle cx="15.5" cy="9" r="1.3"/></g></svg>
<svg class="a" style="left:14px;top:297px" width="16" height="16" viewBox="0 0 16 16"><path d="M3.8 8H12.5M8.3 3.3L13 8L8.3 12.7" fill="none" stroke="#232b36" stroke-width="2.3"/></svg>
<svg class="a" style="left:13.9px;top:334.5px" width="18" height="18" viewBox="0 0 18 18"><g transform="translate(9 9) scale(0.92) translate(-9 -9)" fill="none" stroke="#3a4450" stroke-width="1.05" stroke-linecap="round" stroke-linejoin="round"><path d="M2 13L13 3.5L16 6.8L5 16Z"/><path d="M5 10.5L6 11.7M7.3 8.5L8.3 9.7M9.6 6.5L10.6 7.7M11.9 4.5L12.9 5.7"/></g></svg>
<svg class="a" style="left:13.9px;top:360.5px" width="18" height="18" viewBox="0 0 18 18"><g transform="translate(9 9) scale(0.92) translate(-9 -9)" fill="none" stroke="#3a4450" stroke-width="1.05" stroke-linecap="round" stroke-linejoin="round"><circle cx="8.5" cy="8" r="5.2"/><path d="M12.3 11.8L15 14.5"/><path d="M8.5 5.8V10.2M6.3 8H10.7" stroke="#8a9099"/></g></svg>
<svg class="a" style="left:13.9px;top:399.0px" width="18" height="18" viewBox="0 0 18 18"><g transform="translate(9 9) scale(0.92) translate(-9 -9)" fill="none" stroke="#3a4450" stroke-width="1.05" stroke-linecap="round" stroke-linejoin="round"><path d="M3.5 15V8.5C3.5 5 6 3 9 3S14.5 5 14.5 8.5V15H11V8.8C11 7.3 10.2 6.5 9 6.500S7 7.3 7 8.8V15Z"/><path d="M3.5 12.5H7M11 12.5H14.5"/></g></svg>
<svg class="a" style="left:13.9px;top:426.0px" width="18" height="18" viewBox="0 0 18 18"><g transform="translate(9 9) scale(0.92) translate(-9 -9)" fill="none" stroke="#3a4450" stroke-width="1.05" stroke-linecap="round" stroke-linejoin="round"><path d="M2 11L9.5 2.5L12.5 5L5 13.5L1.5 14Z"/><path d="M3.5 9.5L6.5 12M4.5 8.5L7.5 11"/><rect x="10" y="11.5" width="6" height="4.5" rx="0.8"/><path d="M11.5 11.5V10C11.5 8.5 14 8.5 14.5 9.5"/></g></svg>
<svg class="a" style="left:13.9px;top:452.5px" width="18" height="18" viewBox="0 0 18 18"><g transform="translate(9 9) scale(0.92) translate(-9 -9)" fill="none" stroke="#3a4450" stroke-width="1.05" stroke-linecap="round" stroke-linejoin="round"><rect x="3.5" y="8" width="11" height="8" rx="1"/><path d="M6 8V5C6 2.5 10.5 2 11.5 4.5"/><rect x="8.3" y="11.3" width="1.4" height="1.4" fill="#3a4450"/></g></svg>
<svg class="a" style="left:13.9px;top:478.5px" width="18" height="18" viewBox="0 0 18 18"><g transform="translate(9 9) scale(0.92) translate(-9 -9)" fill="none" stroke="#3a4450" stroke-width="1.05" stroke-linecap="round" stroke-linejoin="round"><path d="M2 9C5 4 13 4 16 9C13 14 5 14 2 9Z"/><circle cx="9" cy="9" r="1.7" fill="#3a4450"/></g></svg>
<svg class="a" style="left:13.9px;top:517.0px" width="18" height="18" viewBox="0 0 18 18"><g transform="translate(9 9) scale(0.92) translate(-9 -9)" fill="none" stroke="#3a4450" stroke-width="1.05" stroke-linecap="round" stroke-linejoin="round"><path d="M9 2.5L15.5 7.5L9 12.5L2.5 7.5Z"/><path d="M3.5 10L9 14.3L14.5 10M3.5 12L9 16.3L14.5 12" stroke="#7a828c"/></g></svg>
<svg class="a" style="left:13.9px;top:543.0px" width="18" height="18" viewBox="0 0 18 18"><g transform="translate(9 9) scale(0.92) translate(-9 -9)" fill="none" stroke="#3a4450" stroke-width="1.05" stroke-linecap="round" stroke-linejoin="round"><rect x="4.3" y="4.3" width="9.4" height="12" rx="2"/><path d="M5.5 2.8H12.5"/><path d="M6.8 7V13.5M9 7V13.5M11.2 7V13.5" stroke-width="0.8"/></g></svg>
<div class="a" style="left:48.3px;top:1019.3px;width:7.3px;height:59px;border:1px solid #ddd;background:#fff"></div>
<div class="a" style="left:50.3px;top:1045.8px;width:0;height:0;border-top:3px solid transparent;border-bottom:3px solid transparent;border-right:4.5px solid #222"></div>
</body></html>
